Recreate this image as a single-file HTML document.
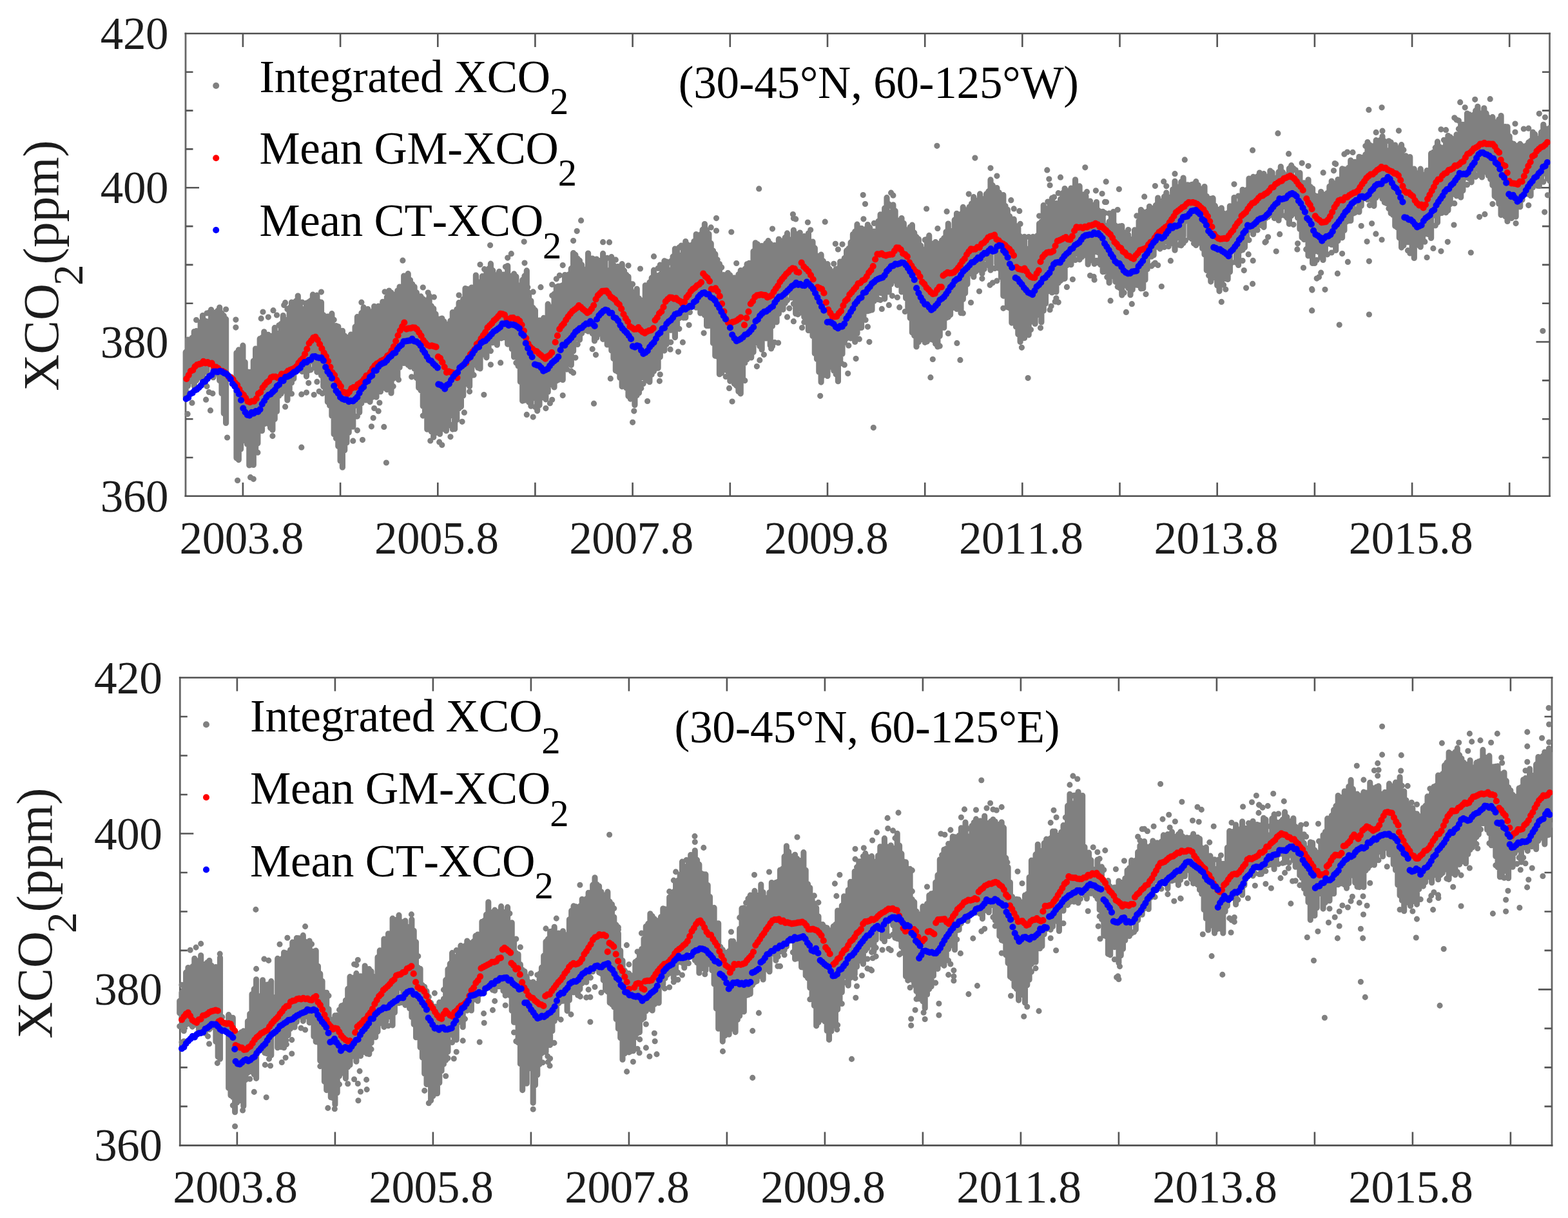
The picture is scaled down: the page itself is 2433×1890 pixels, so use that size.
<!DOCTYPE html>
<html lang="en">
<head>
<meta charset="utf-8">
<title>XCO2 time series (30-45°N): integrated, GM and CT means</title>
<style>
html,body{margin:0;padding:0;background:#fff;}
body{width:2433px;height:1890px;overflow:hidden;}
svg{display:block;font-family:"Liberation Serif",serif;font-kerning:none;font-variant-ligatures:none;}
</style>
</head>
<body>
<svg width="2433" height="1890" viewBox="0 0 2433 1890">
<rect width="2433" height="1890" fill="#fff"/>
<g id="p1">
<path d="M288 50.7V771.1M2404.5 50.7V771.1" fill="none" stroke="#666" stroke-width="2.8"/>
<path d="M286.6 52H2405.9M286.6 769.8H2405.9" fill="none" stroke="#505050" stroke-width="2.6"/>
<path d="M376.9 52v21M376.9 769.8v-21M528.1 52v21M528.1 769.8v-21M679.3 52v21M679.3 769.8v-21M830.4 52v21M830.4 769.8v-21M981.6 52v21M981.6 769.8v-21M1132.8 52v21M1132.8 769.8v-21M1284 52v21M1284 769.8v-21M1435.2 52v21M1435.2 769.8v-21M1586.3 52v21M1586.3 769.8v-21M1737.5 52v21M1737.5 769.8v-21M1888.7 52v21M1888.7 769.8v-21M2039.9 52v21M2039.9 769.8v-21M2191.1 52v21M2191.1 769.8v-21M2342.2 52v21M2342.2 769.8v-21M288 111.8h11.5M2404.5 111.8h-11.5M288 171.6h11.5M2404.5 171.6h-11.5M288 231.4h11.5M2404.5 231.4h-11.5M288 291.3h21M2404.5 291.3h-21M288 351.1h11.5M2404.5 351.1h-11.5M288 410.9h11.5M2404.5 410.9h-11.5M288 470.7h11.5M2404.5 470.7h-11.5M288 530.5h21M2404.5 530.5h-21M288 590.4h11.5M2404.5 590.4h-11.5M288 650.2h11.5M2404.5 650.2h-11.5M288 710h11.5M2404.5 710h-11.5" fill="none" stroke="#555" stroke-width="2.6"/>
<clipPath id="clip-p1"><rect x="282" y="52" width="2123.5" height="717.8"/></clipPath>
<g clip-path="url(#clip-p1)">
<path d="M288.2 546.4V616.1M291.5 527V599M294.7 527.3V591.1M298 524.3V591.9M301.3 514.6V599M304.6 513.7V590.6M307.9 538.4V575.6M311.2 500.1V585.9M314.5 489.5V591.7M317.7 497.7V575.7M321 498.9V577.3M324.3 506.2V557M327.6 480.6V558.1M330.9 484.9V585.7M334.2 485.3V576.9M337.5 482.4V566.2M340.7 477V590.6M344 486.1V610.5M347.3 489.9V641.6M350.6 495.2V656.4M367 547.5V710.8M370.3 564.3V713.6M373.6 543.4V696.9M376.9 536.2V683.8M380.2 562.1V677.4M383.5 577V689.2M386.8 583.4V722M390 577.1V720.9M393.3 560.1V721.5M396.6 541.1V696.6M399.9 543V688.1M403.2 525.7V667M406.5 523.9V668.4M409.8 514.8V657.9M413.1 526V654.2M416.3 519.4V657.5M419.6 523.4V663.9M422.9 521.1V667.2M426.2 508.7V650.6M429.5 527V638.4M432.8 517.3V614.2M436.1 502.6V611.1M439.3 489.6V603.3M442.6 496.3V606.7M445.9 502.2V620.9M449.2 477.8V605.1M452.5 469V594.1M455.8 470.4V587.7M459.1 467.3V554.7M462.3 459.1V542.2M465.6 475.1V574.6M468.9 487.9V565.5M472.2 479.7V573.9M475.5 470.3V584.1M478.8 481.3V574.7M482.1 466.6V560.7M485.4 457.2V556.4M488.6 466.2V570.7M491.9 458.2V577.3M495.2 468.4V575.2M498.5 469.2V582.6M501.8 488.8V599.7M505.1 491.7V605.2M508.4 491.1V623.8M511.6 500.7V629.2M514.9 486.7V645.3M518.2 508.7V673.8M521.5 505.5V680.2M524.8 506.8V692.6M528.1 514.9V715.3M531.4 513.3V725.2M534.7 521V698.7M537.9 523.8V686.9M541.2 523.3V671.2M544.5 519V658.9M547.8 524.8V662.2M551.1 507.2V627.4M554.4 491.7V629.5M557.7 496V639.9M560.9 485.7V625.7M564.2 476.9V612.9M567.5 480.7V620.8M570.8 492.5V620.7M574.1 483.8V623.6M577.4 491.8V616.4M580.7 475.3V593.7M584 482.1V616.2M587.2 486.9V606.5M590.5 476.7V572.7M593.8 468.3V602.3M597.1 470.2V601.9M600.4 461.1V588.9M603.7 451.1V602M607 454V609.9M610.2 457.1V587.4M613.5 459.5V570.3M616.8 451.1V585.3M620.1 445V570.3M623.4 448.4V556.2M626.7 428V563.5M630 431.5V537.4M633.2 424.7V566.3M636.5 434.6V569.1M639.8 441V552.8M643.1 445.1V572.3M646.4 454.1V586.6M649.7 460V601.7M653 459.9V605.8M656.3 463.9V630.2M659.5 467.3V642.3M662.8 465.5V666.2M666.1 459.1V658.9M669.4 474.9V669.8M672.7 478.8V678.5M676 487.3V671.8M679.3 497.6V666M682.5 495.1V673.4M685.8 494V666M689.1 498.9V663.2M692.4 503.3V668.5M695.7 523.8V660.5M699 497.8V638M702.3 484.5V644.9M705.6 492.1V665.7M708.8 480.1V651.5M712.1 469.7V633.8M715.4 473.5V631.1M718.7 464.3V614.1M722 447.6V582.8M725.3 448.7V595.9M728.6 449.4V599.5M731.8 446.1V582.5M735.1 451.6V566.2M738.4 427.1V560.3M741.7 437.7V570.7M745 444.3V572M748.3 428.7V550.3M751.6 435.9V536.2M754.9 422.2V554.8M758.1 417.2V542M761.4 409.2V531.8M764.7 419.7V531.6M768 426.5V531.1M771.3 428.1V535.2M774.6 421.4V520.1M777.9 427.7V524.8M781.1 426V523.7M784.4 437.6V520.7M787.7 412.5V534.1M791 428.3V533.9M794.3 428.3V541.4M797.6 424.9V553.9M800.9 429.2V545.6M804.1 466.8V568M807.4 442.8V592.5M810.7 434.4V622.1M814 428.2V621.1M817.3 419.9V617.4M820.6 454.2V624.1M823.9 466.8V630.2M827.2 477.7V613.2M830.4 481.4V617.9M833.7 498.8V637.6M837 497V628.8M840.3 500.3V596.9M843.6 493.4V616.9M846.9 499.9V619.8M850.2 471.9V608.3M853.4 476.6V597.3M856.7 477.3V592.2M860 456.1V600.9M863.3 445.3V591M866.6 444.1V577.3M869.9 443.9V583.1M873.2 442.6V589.5M876.5 426.6V572.1M879.7 427.2V545.4M883 425.9V565M886.3 416.7V566.5M889.6 392.5V545.1M892.9 395.4V525.7M896.2 401.3V517.7M899.5 404.4V527.3M902.7 410.9V517.3M906 419.6V508.2M909.3 418.1V512.4M912.6 393.1V514.1M915.9 402.6V505.2M919.2 401V517.6M922.5 404V528.9M925.7 402V524.2M929 404.6V515.6M932.3 404.4V518.4M935.6 393.4V526.3M938.9 401.6V525.1M942.2 421.4V535M945.5 419.5V531M948.8 398.7V544M952 411.2V556.5M955.3 419.2V575.1M958.6 413.7V576.7M961.9 414.2V586.2M965.2 409.7V599.8M968.5 419.9V593.2M971.8 426.3V602M975 429.3V614.7M978.3 440.6V606M981.6 453.3V618.2M984.9 455.6V628.5M988.2 448.3V613.6M991.5 463.1V609.8M994.8 470.2V585.9M998.1 478.4V579.8M1001.3 442.8V587.9M1004.6 447.4V590.4M1007.9 438.2V592.7M1011.2 431.2V581.2M1014.5 419.2V535.6M1017.8 428.2V571.4M1021.1 427.7V571.2M1024.3 426.2V554.1M1027.6 412.2V541.7M1030.9 404.9V544.1M1034.2 406V534.2M1037.5 419V507.3M1040.8 424.5V512.3M1044.1 398.2V507M1047.4 386V523.6M1050.6 387V505.2M1053.9 405.1V493.7M1057.2 396V487.6M1060.5 382.5V493.1M1063.8 374.5V492.9M1067.1 379.9V481.4M1070.4 392.7V466.8M1073.6 380.2V468.5M1076.9 374.5V472.2M1080.2 363.6V477.2M1083.5 372.4V461.5M1086.8 364V485.9M1090.1 356.4V483M1093.4 347.6V489M1096.6 375.2V505.4M1099.9 362.9V505.5M1103.2 377.7V492.1M1106.5 389V532.5M1109.8 394.2V552.2M1113.1 417.3V538.5M1116.4 409.6V580.7M1119.7 433V578.8M1122.9 426.7V574.2M1126.2 427.4V570.4M1129.5 423.5V576.4M1132.8 426.9V591.3M1136.1 433.3V590M1139.4 431.1V575M1142.7 431.9V598.6M1145.9 425.9V607.5M1149.2 419.7V610.8M1152.5 424.2V586.1M1155.8 417.4V563.3M1159.1 409.8V557.8M1162.4 408.4V548.9M1165.7 408.5V555M1169 390V546.5M1172.2 376.8V531.8M1175.5 378.9V521.9M1178.8 383.6V537.3M1182.1 381.6V542.5M1185.4 407.3V520.6M1188.7 377.7V525M1192 373.7V520.2M1195.2 378.2V536M1198.5 386.2V506.1M1201.8 380.5V499.2M1205.1 380.8V499.8M1208.4 371.1V486.7M1211.7 375V478.4M1215 373.9V480.3M1218.2 368.7V470.5M1221.5 361.9V415.6M1224.8 384.3V453.8M1228.1 371.9V461.9M1231.4 357.1V460.1M1234.7 362.9V486.7M1238 368.5V472.6M1241.3 377.9V479.5M1244.5 367.1V485.4M1247.8 366.5V492M1251.1 367.4V491.5M1254.4 362V512.7M1257.7 375.2V498.6M1261 375.1V521.5M1264.3 384.9V548.4M1267.5 410.9V557.2M1270.8 397.1V577.2M1274.1 395.2V593.1M1277.4 405.2V582.6M1280.7 418.5V572.7M1284 409.7V583.4M1287.3 417.4V569.6M1290.6 421.7V555.4M1293.8 426.8V575.3M1297.1 417.5V580.8M1300.4 416.8V591.7M1303.7 406.1V559.1M1307 405.7V549.3M1310.3 400.6V531.7M1313.6 388.9V510.4M1316.8 385.7V520.4M1320.1 376.2V525M1323.4 363.5V523.6M1326.7 375.5V530.5M1330 348.2V517.6M1333.3 355.7V509M1336.6 354.3V508.4M1339.9 358.5V491.3M1343.1 355.7V483.2M1346.4 348.6V482.7M1349.7 353.2V481.8M1353 362.8V481M1356.3 359V467.2M1359.6 360.7V462.3M1362.9 343.3V452.1M1366.1 332.8V454.5M1369.4 337.4V455.3M1372.7 323V463.8M1376 306.7V453.2M1379.3 329.9V452.9M1382.6 331.2V440.9M1385.9 317.8V436M1389.1 327.3V420.2M1392.4 342V442.3M1395.7 347.7V438.9M1399 338.5V453M1402.3 346.5V445.2M1405.6 374.3V462.7M1408.9 360.4V477.9M1412.2 352.3V493.5M1415.4 349.2V516.1M1418.7 361.2V520.8M1422 367.7V538M1425.3 370.9V530.7M1428.6 381V504.9M1431.9 389.4V526.7M1435.2 387.2V531.3M1438.4 371.3V504.1M1441.7 365.4V524.6M1445 378.8V526.4M1448.3 378V527.7M1451.6 375.6V533.6M1454.9 379V538M1458.2 378.1V521.6M1461.5 373.1V504.8M1464.7 369.6V508.4M1468 359.8V493.4M1471.3 347V476.2M1474.6 358.3V488.5M1477.9 387.1V477.8M1481.2 341.2V463.6M1484.5 331.3V479.5M1487.7 336.4V478.7M1491 332.4V485.7M1494.3 321.4V464.6M1497.6 325.9V455.1M1500.9 328.2V441.1M1504.2 321.1V424.7M1507.5 316V422.1M1510.8 305.7V429.7M1514 311.2V421.6M1517.3 311.6V385M1520.6 300.9V419.1M1523.9 308.6V424.4M1527.2 309.3V401.1M1530.5 300.9V386.7M1533.8 296.9V412.1M1537 278.9V419.2M1540.3 298.8V390.5M1543.6 292.3V381.1M1546.9 291.5V409.5M1550.2 298.8V416.5M1553.5 308.6V430.2M1556.8 302.6V459.1M1560 319.5V459.5M1563.3 325.3V476.6M1566.6 335.5V478.1M1569.9 343.5V501.1M1573.2 340.2V499.3M1576.5 350.5V506.9M1579.8 353.3V518.7M1583.1 366.9V530.6M1586.3 372V524.9M1589.6 367.4V511.9M1592.9 391.4V516.6M1596.2 386V519.8M1599.5 373.9V492.1M1602.8 367.4V499.3M1606.1 370.7V502.5M1609.3 365.9V484.6M1612.6 347V489.1M1615.9 344.2V499.9M1619.2 318.5V482.2M1622.5 323.6V470.9M1625.8 328.3V452.2M1629.1 313.2V447.4M1632.4 307.4V436.7M1635.6 319.8V451.1M1638.9 315.7V452.9M1642.2 317.3V438.9M1645.5 309V409.6M1648.8 299.7V432.9M1652.1 292.6V432.3M1655.4 296.4V411.7M1658.6 302.6V404.5M1661.9 292V410.7M1665.2 292.8V399.7M1668.5 278.8V389.2M1671.8 292.9V393.8M1675.1 288.9V402.8M1678.4 307.4V398.9M1681.6 318.4V396.2M1684.9 304.3V388.3M1688.2 319.3V410.2M1691.5 327.4V393.4M1694.8 318.1V404.2M1698.1 319.5V383M1701.4 313.5V390.8M1704.7 326.9V391.9M1707.9 330.9V411.1M1711.2 328.3V421.8M1714.5 350.2V421.3M1717.8 357.3V415.2M1721.1 343.9V438.8M1724.4 335V424.8M1727.7 328.6V406.2M1730.9 350.2V437.3M1734.2 355V417.3M1737.5 351.1V446.8M1740.8 350.5V458M1744.1 360.8V442.6M1747.4 371.2V430.3M1750.7 364.3V446.9M1754 371.3V457.7M1757.2 371.3V449.5M1760.5 356.9V434.1M1763.8 358V442.2M1767.1 343V442.8M1770.4 325.6V447.8M1773.7 328.9V447.4M1777 330.5V434.2M1780.2 328.3V417.7M1783.5 320.3V398.3M1786.8 323.2V398.1M1790.1 326.3V395.9M1793.4 318.5V383.1M1796.7 307.1V383.3M1800 312.4V386.1M1803.3 313.1V378.6M1806.5 305.2V371.5M1809.8 299V374.9M1813.1 306.2V363.4M1816.4 312V377M1819.7 294.1V377.9M1823 281.3V388.2M1826.3 290V359.5M1829.5 305.1V369.1M1832.8 282.2V380.8M1836.1 276V366.2M1839.4 288.5V335.6M1842.7 286.9V343.3M1846 287.3V368.6M1849.3 298.9V370.7M1852.5 285.7V362.4M1855.8 281.7V380.6M1859.1 287.3V365.6M1862.4 297V377.3M1865.7 293V385.5M1869 289.6V394.9M1872.3 304.5V419.5M1875.6 308.3V412.5M1878.8 308.3V437.1M1882.1 307.7V426.4M1885.4 319.4V431M1888.7 337.2V443.1M1892 325.2V451.8M1895.3 322.8V440.4M1898.6 331V427.7M1901.8 337.1V432.5M1905.1 330.5V433.4M1908.4 319.8V422M1911.7 322V384.8M1915 306.6V385.3M1918.3 317.3V407.5M1921.6 316.9V411.4M1924.9 305.7V389M1928.1 294.3V387.7M1931.4 295.9V384.1M1934.7 294.6V369.6M1938 277.1V355.5M1941.3 279.2V356.8M1944.6 290.7V363.5M1947.9 278.5V349.5M1951.1 273.8V339.2M1954.4 268.1V328.6M1957.7 273.6V350M1961 286.2V352.6M1964.3 276.2V338.5M1967.6 274.1V336.5M1970.9 265.1V323.2M1974.1 267.7V316M1977.4 288.3V321.6M1980.7 296.1V337M1984 266.9V342M1987.3 258.5V334.5M1990.6 267.4V320.5M1993.9 283.9V320.4M1997.2 271.5V337.9M2000.4 261.4V347.5M2003.7 256.7V334.7M2007 277.1V331.6M2010.3 279.8V315.4M2013.6 268.9V338M2016.9 268.3V355.5M2020.2 286.7V368.6M2023.4 283.8V371.6M2026.7 293V367.1M2030 278.8V397M2033.3 289.8V391M2036.6 292.5V408.5M2039.9 303.4V390.2M2043.2 304.6V375.5M2046.5 309.6V391.3M2049.7 297.6V399.3M2053 301.6V403.4M2056.3 302.2V393.7M2059.6 299.6V376M2062.9 289.3V378.3M2066.2 281V379.7M2069.5 284.5V377.7M2072.7 300.7V388.5M2076 278.6V373.7M2079.3 279.1V363M2082.6 261.9V368.8M2085.9 262.8V357.4M2089.2 266.3V344.1M2092.5 260.3V342.7M2095.8 248.8V342.5M2099 258.3V331.4M2102.3 263.7V306.1M2105.6 254.2V304.2M2108.9 243.3V328.9M2112.2 244.4V319.5M2115.5 246.9V284.5M2118.8 239.8V307.6M2122 220.5V296.6M2125.3 224.9V306.4M2128.6 226.6V310.6M2131.9 226.6V319.6M2135.2 217.7V306.8M2138.5 219.8V296.6M2141.8 217.3V303.3M2145 211.6V308.4M2148.3 219.3V314.1M2151.6 249.4V300.5M2154.9 233.7V309.5M2158.2 220.8V331.1M2161.5 232.4V333.4M2164.8 236.4V350.8M2168.1 231.6V352.9M2171.3 229.5V369.1M2174.6 224.7V384.1M2177.9 247.1V381M2181.2 241.8V350.9M2184.5 246.6V375.7M2187.8 243.5V373.1M2191.1 265.3V390.2M2194.3 262.2V400.4M2197.6 274.9V380.5M2200.9 268.6V370.9M2204.2 262.2V383.2M2207.5 271V370.8M2210.8 278.8V361.2M2214.1 264.7V362.9M2217.4 271.1V364M2220.6 238.2V369.5M2223.9 236.4V334.6M2227.2 241.5V325.4M2230.5 219.9V345.2M2233.8 227.8V331.2M2237.1 232V318.9M2240.4 228.8V322.8M2243.6 217.3V313.6M2246.9 210.5V326.6M2250.2 212.5V316.8M2253.5 240.3V301.6M2256.8 215.6V299.4M2260.1 208.8V304M2263.4 213.2V297.2M2266.7 193.1V306.2M2269.9 193.3V295.8M2273.2 193.8V275.6M2276.5 176.1V273.2M2279.8 177.7V277.2M2283.1 219.8V282.8M2286.4 178.4V272.7M2289.7 171.7V262.5M2292.9 165.3V247.4M2296.2 175.9V270.8M2299.5 175.8V274.9M2302.8 167.8V267.3M2306.1 175.9V259.5M2309.4 182.4V272.4M2312.7 187.3V278.1M2315.9 181.7V287.6M2319.2 189.6V304.5M2322.5 195.7V307.3M2325.8 185.3V316.2M2329.1 179.6V333.6M2332.4 199V331.2M2335.7 196.7V335.7M2339 196.8V343.5M2342.2 211.5V337.7M2345.5 222.4V326.3M2348.8 223.4V333.1M2352.1 231.3V336.3M2355.4 240.6V301.4M2358.7 223.4V321M2362 226.6V309.9M2365.2 245.5V293.2M2368.5 225.8V287M2371.8 220.9V301.4M2375.1 218.5V303.7M2378.4 205V291.1M2381.7 208.4V283M2385 215.1V286.9M2388.3 245.7V288.5M2391.5 205.2V282.1M2394.8 193.3V259.5M2398.1 199.6V269.6M2401.4 205.6V277.3M2404.7 198.5V280.7" fill="none" stroke="#808080" stroke-width="9.2" stroke-linecap="round"/>
<path d="M298 625.2h0M304.6 496.5h0M307.9 525.9h0M317.7 587.1h0M321 486h0M321 599.4h0M324.3 485.2h0M324.3 584.3h0M324.3 608.5h0M337.5 579.9h0M350.6 480h0M370.3 542.9h0M393.3 743.3h0M399.9 702.2h0M416.3 492.1h0M422.9 676.6h0M429.5 489h0M432.8 504.8h0M442.6 469.7h0M442.6 631.2h0M445.9 479.7h0M452.5 611h0M468.9 469.1h0M468.9 576.6h0M475.5 609.1h0M478.8 468.9h0M478.8 594.3h0M482.1 573.9h0M491.9 592.4h0M495.2 607.3h0M498.5 453.1h0M518.2 496.3h0M547.8 684.2h0M551.1 646.3h0M554.4 646.1h0M554.4 667.8h0M560.9 469.2h0M570.8 479.6h0M580.7 633.5h0M587.2 475.1h0M587.2 637.9h0M590.5 607.7h0M597.1 452.8h0M600.4 604.6h0M610.2 599.5h0M656.3 446h0M656.3 645.1h0M685.8 690.5h0M695.7 508.2h0M699 659.2h0M699 677.8h0M702.3 666.1h0M712.1 458.1h0M722 594.7h0M728.6 607.6h0M735.1 581.9h0M745 410.5h0M751.6 417.7h0M751.6 547.8h0M761.4 544.6h0M761.4 565.8h0M784.4 414h0M787.7 400.1h0M800.9 563h0M804.1 453.4h0M814 408.1h0M817.3 643.4h0M827.2 452.9h0M827.2 647.1h0M830.4 631.6h0M846.9 633.6h0M853.4 625.7h0M856.7 458.5h0M856.7 441.5h0M856.7 620.3h0M863.3 432.8h0M866.6 589.3h0M873.2 411.6h0M873.2 613.6h0M879.7 573.1h0M886.3 575.9h0M889.6 373.6h0M889.6 578.4h0M892.9 555.1h0M896.2 534.4h0M919.2 541.7h0M935.6 375.7h0M942.2 400.4h0M945.5 375.9h0M955.3 403.2h0M975 412.1h0M978.3 619.1h0M981.6 440.9h0M981.6 655.3h0M994.8 602.6h0M998.1 466.2h0M998.1 595.4h0M1004.6 622.5h0M1014.5 576h0M1014.5 397.9h0M1021.1 416.3h0M1024.3 411.1h0M1024.3 581.1h0M1037.5 407.5h0M1040.8 405.4h0M1040.8 531.1h0M1053.9 383.9h0M1053.9 510.3h0M1057.2 381h0M1070.4 484.4h0M1096.6 357.1h0M1103.2 352.9h0M1113.1 403.1h0M1113.1 553.1h0M1119.7 414.9h0M1126.2 584.5h0M1136.1 623h0M1139.4 595.5h0M1142.7 408.5h0M1155.8 590.6h0M1178.8 558.9h0M1185.4 394.1h0M1185.4 550.3h0M1198.5 355.1h0M1198.5 537.2h0M1201.8 531.3h0M1221.5 465.9h0M1221.5 491.9h0M1224.8 478.4h0M1231.4 471.5h0M1231.4 338.7h0M1231.4 498.7h0M1234.7 339.9h0M1238 487.8h0M1241.3 361.1h0M1244.5 508.5h0M1247.8 500h0M1257.7 511.2h0M1257.7 356.8h0M1290.6 566.9h0M1293.8 409.3h0M1300.4 387h0M1307 379.1h0M1310.3 566.2h0M1313.6 525.1h0M1316.8 536.2h0M1326.7 359.3h0M1333.3 526.2h0M1339.9 339.8h0M1343.1 496.5h0M1346.4 507.1h0M1356.3 346.4h0M1362.9 464.7h0M1366.1 465.6h0M1379.3 316.9h0M1379.3 473.4h0M1382.6 319.8h0M1382.6 299.2h0M1385.9 303.2h0M1392.4 461.5h0M1395.7 476.9h0M1405.6 356.5h0M1435.2 372.2h0M1438.4 530h0M1454.9 354.5h0M1458.2 536.9h0M1471.3 491.9h0M1471.3 517.4h0M1477.9 374.4h0M1494.3 486h0M1517.3 400.6h0M1523.9 432.3h0M1527.2 417.5h0M1530.5 410.4h0M1537 260.8h0M1540.3 287.7h0M1540.3 438.8h0M1543.6 416.4h0M1546.9 273.1h0M1546.9 435.8h0M1556.8 478.3h0M1573.2 323.9h0M1583.1 347.4h0M1589.6 524.4h0M1596.2 367.6h0M1599.5 511.5h0M1612.6 335.1h0M1625.8 313h0M1629.1 287.5h0M1629.1 480.7h0M1632.4 453.9h0M1635.6 305.9h0M1638.9 462.8h0M1642.2 299.7h0M1642.2 469.1h0M1645.5 435.4h0M1645.5 275.2h0M1655.4 445.4h0M1668.5 403.4h0M1681.6 301.9h0M1691.5 312h0M1691.5 427.6h0M1698.1 409.4h0M1698.1 434.2h0M1701.4 404.3h0M1704.7 408h0M1714.5 330.6h0M1714.5 313.4h0M1717.8 430h0M1721.1 331.1h0M1727.7 429h0M1734.2 445.1h0M1734.2 325.5h0M1744.1 454.3h0M1747.4 443h0M1747.4 484.4h0M1750.7 356.6h0M1763.8 334.9h0M1786.8 412.8h0M1790.1 410.1h0M1796.7 411.5h0M1806.5 383.5h0M1809.8 288.8h0M1813.1 382.4h0M1816.4 404.7h0M1823 269.7h0M1829.5 380.1h0M1836.1 377.2h0M1839.4 373.2h0M1849.3 286.4h0M1852.5 377.8h0M1875.6 427.4h0M1895.3 468.4h0M1898.6 442.2h0M1901.8 449h0M1911.7 407.5h0M1915 285.8h0M1921.6 304h0M1928.1 404.6h0M1938 372.6h0M1944.6 274.4h0M1951.1 356.9h0M1954.4 348.8h0M1961 269.7h0M1964.3 374.8h0M1967.6 367.8h0M1974.1 333.7h0M1977.4 338.6h0M1980.7 276.1h0M1993.9 334.8h0M2007 261.3h0M2007 348.6h0M2010.3 263.8h0M2013.6 377.8h0M2020.2 253.1h0M2026.7 386.9h0M2030 257.6h0M2039.9 408.5h0M2043.2 403.6h0M2043.2 432.1h0M2046.5 430h0M2049.7 423.2h0M2059.6 394.8h0M2066.2 392h0M2069.5 264.8h0M2072.7 254.6h0M2082.6 393.6h0M2085.9 239.2h0M2099 236.4h0M2102.3 251.3h0M2102.3 330.1h0M2105.6 324.8h0M2112.2 350.5h0M2115.5 297.9h0M2118.8 226.5h0M2122 309.7h0M2125.3 318.6h0M2128.6 346.8h0M2135.2 205.4h0M2145 203.2h0M2151.6 315.5h0M2154.9 218.8h0M2154.9 323.4h0M2164.8 225.1h0M2177.9 232.7h0M2184.5 388.7h0M2187.8 392.9h0M2210.8 375.2h0M2214.1 399.5h0M2223.9 385.4h0M2227.2 229.2h0M2227.2 350h0M2237.1 330.5h0M2240.4 217.3h0M2243.6 329.8h0M2243.6 201.7h0M2253.5 218.9h0M2256.8 315.7h0M2256.8 182.8h0M2260.1 185.9h0M2263.4 200.1h0M2263.4 187.2h0M2273.2 166.8h0M2276.5 286.7h0M2289.7 274.3h0M2292.9 271.8h0M2315.9 316.6h0M2345.5 338.6h0M2352.1 346.6h0M2355.4 226.2h0M2355.4 317.6h0M2371.8 199.2h0M2371.8 318.6h0M2388.3 176.3h0M2394.8 282.2h0M2401.4 302.8h0M624.9 404.2h0M760.6 380.6h0M813.2 375.1h0M793.3 393.7h0M365.9 496.1h0M365.9 508.1h0M408 484h0M424 481.7h0M440.7 473.4h0M405.2 494.2h0M839 445.7h0M818.8 445.7h0M673.4 461h0M664.2 454h0M539.8 530.2h0M329.9 610.6h0M319.6 620.2h0M326.5 636.9h0M352.6 679h0M467.8 611.9h0M487.2 612.5h0M500.2 610.6h0M467.8 694.2h0M599.4 718h0M562.5 682.6h0M576.4 661.8h0M595.8 662.4h0M579.2 648.5h0M588.9 625h0M638.7 584.8h0M618.5 589.2h0M750.9 612.5h0M776.7 562.9h0M717.1 654.3h0M720.4 640.2h0M681.7 685.9h0M667.8 684h0M368.6 745.5h0M388.6 740.7h0M385.8 577.3h0M291.1 642.4h0M1177.7 292.9h0M901.6 342.2h0M895.2 358.6h0M1111.5 338.6h0M1111.5 358h0M1134.8 360h0M1339.2 302.6h0M1342.5 316.5h0M1437.6 324h0M1280.2 344.2h0M1253.4 345h0M1230.4 332.5h0M1296.3 378.3h0M993.5 417h0M868.3 427.3h0M924.5 550.6h0M921.5 626.2h0M947.3 587.4h0M1023.4 591.3h0M983.8 637.8h0M1131.5 602.4h0M1174.4 568.6h0M1272.7 614.3h0M1355.3 663.6h0M1315.7 579.6h0M1305.4 563.6h0M1328.1 556.6h0M1348.9 530.6h0M1404.3 483.5h0M1443.9 585.7h0M1447.3 557.5h0M1092.1 516.8h0M1069.1 504.3h0M1059.4 531.2h0M1052.5 545.8h0M1040.1 542.2h0M1207.6 532h0M1196.6 540.9h0M1384.4 459.1h0M1368.3 479.4h0M1453.9 226.3h0M1512.9 245.1h0M1982.9 206.9h0M1943.6 233.2h0M1999.6 238.7h0M1838.3 247.9h0M1624.8 263.9h0M1627.8 277.8h0M1683.8 259.8h0M1716.2 281.9h0M1736.4 293.6h0M1710.1 300.5h0M1716.5 313.5h0M1686.5 297.7h0M1700.4 295.8h0M1805.7 281.7h0M1792.4 288.6h0M1775.7 305.2h0M1568.8 310.7h0M1581.8 327.4h0M1503.2 301.1h0M1469.1 328.2h0M1506.5 469.5h0M1519.5 452h0M1536.1 442.3h0M1489.9 558.7h0M1595.1 586.6h0M1484.9 532.4h0M1664.4 433.5h0M1697.1 429.3h0M1631.1 475h0M1637.2 468.1h0M1723.1 466.7h0M1756.3 471.7h0M1778 456.5h0M1802.3 444.5h0M1792.4 408h0M1933.6 446.8h0M1943.6 440.4h0M1930.3 419.6h0M1980.2 390h0M2012.9 386.9h0M2022.5 415.5h0M2035.6 481.9h0M2035.6 448.7h0M1963 376.1h0M1985.7 363.4h0M1937.2 394.7h0M1944.2 404.4h0M1585.4 539.3h0M1614.5 508.8h0M2123.9 170.4h0M2144.1 166.8h0M2170.4 202.8h0M2090.6 236h0M2071.2 253.5h0M2053.2 267.9h0M2265.7 158.7h0M2288.7 154.3h0M2312.2 153.7h0M2236 200.8h0M2351 192h0M2364.3 200h0M2351 205h0M2397.5 182h0M2075.4 424.4h0M2091.4 406.4h0M2124.4 405.3h0M2121.1 374.8h0M2144.1 372h0M2134.9 362.9h0M2236 389.8h0M2246.3 375.3h0M2282.3 392h0M2256 349h0M2396.7 329.1h0M2295.6 336.6h0M2303.9 332.4h0M2036 450.1h0M2056 449.3h0M2035.8 481.9h0M2078.2 504.1h0M2124.4 488h0M2393.9 513.5h0" fill="none" stroke="#808080" stroke-width="9.2" stroke-linecap="round"/>
<path d="M289.4 587.8h0M292.7 582.1h0M295.9 575.8h0M299.2 574.4h0M302.5 568.8h0M305.8 566h0M309.1 565.1h0M312.3 564.2h0M315.6 560.8h0M318.9 563.5h0M322.2 562h0M325.5 564.7h0M328.7 563.5h0M332 569.2h0M335.3 569.6h0M338.6 571.6h0M341.9 575.6h0M345.2 575.9h0M348.4 577.5h0M351.7 580.3h0M355 584.8h0M358.3 585.7h0M361.6 588.8h0M364.8 594h0M368.1 597.4h0M371.4 603.8h0M374.7 609.8h0M378 612.9h0M381.2 617.7h0M384.5 622.9h0M387.8 624.2h0M391.1 622.6h0M394.4 622.7h0M397.7 618.7h0M400.9 610.9h0M404.2 608.6h0M407.5 601.6h0M410.8 597.3h0M414.1 593.3h0M417.3 591.1h0M420.6 585.9h0M423.9 584.7h0M427.2 584.7h0M430.5 586.1h0M433.7 584.9h0M437 580.4h0M440.3 581.7h0M443.6 579h0M446.9 575.6h0M450.2 574h0M453.4 572.8h0M456.7 571.4h0M460 568.6h0M463.3 563.1h0M466.6 559.4h0M469.8 556.3h0M473.1 549.4h0M476.4 541.6h0M479.7 532.6h0M483 528.6h0M486.2 524.1h0M489.5 522.9h0M492.8 527.3h0M496.1 534h0M499.4 540.9h0M502.7 547.7h0M505.9 553h0M509.2 560.5h0M512.5 569.6h0M515.8 578.2h0M519.1 582.1h0M522.3 589.8h0M525.6 594.6h0M528.9 599.6h0M532.2 608.1h0M535.5 609.4h0M538.7 611.4h0M542 608.1h0M545.3 602.8h0M548.6 601.1h0M551.9 600.8h0M555.1 596.6h0M558.4 594.6h0M561.7 592.2h0M565 588.1h0M568.3 583h0M571.6 582h0M574.8 577.5h0M578.1 571.9h0M581.4 567.3h0M584.7 564.3h0M588 562.6h0M591.2 560.1h0M594.5 558.6h0M597.8 556.8h0M601.1 552.2h0M604.4 550.1h0M607.6 544.2h0M610.9 537.9h0M614.2 529.3h0M617.5 520.5h0M620.8 513h0M624.1 506.7h0M627.3 500.6h0M630.6 510.7h0M633.9 509.7h0M637.2 509.3h0M640.5 508.3h0M643.7 508.7h0M647 511.2h0M650.3 516h0M653.6 521h0M656.9 528.2h0M660.1 532.2h0M663.4 535.5h0M666.7 537h0M670 536.3h0M673.3 537.4h0M676.6 538.4h0M679.8 553.6h0M683.1 555.9h0M686.4 562.2h0M689.7 569.5h0M693 577.9h0M696.2 576.3h0M699.5 577.6h0M702.8 578.5h0M706.1 582.8h0M709.4 586.1h0M723.2 563.2h0M726.5 556.8h0M729.9 549.8h0M733.2 546.1h0M736.5 542h0M739.8 534.1h0M743.2 531.3h0M746.5 525.4h0M749.8 520.4h0M753.1 515.5h0M756.5 508.4h0M759.8 505h0M763.1 501.8h0M766.4 497.4h0M769.8 494.5h0M773.1 490.8h0M776.4 486.8h0M779.7 487.4h0M783 488.7h0M786.4 494.8h0M789.7 494.9h0M793 493.3h0M796.3 493.2h0M799.7 495.6h0M803 495.4h0M806.3 498.1h0M809.6 504h0M813 513.3h0M816.3 524.8h0M819.6 533.4h0M822.9 538.7h0M826.3 541.5h0M829.6 544.3h0M832.9 545.4h0M836.2 548.6h0M839.6 551.3h0M842.9 554.1h0M846.2 556.7h0M849.5 553.1h0M852.9 551.2h0M856.2 547.2h0M861.7 531h0M865 520.9h0M868.3 510.7h0M871.6 505.6h0M874.9 502.2h0M878.2 496.3h0M881.5 491.3h0M884.9 487h0M888.2 483h0M891.5 480.5h0M894.8 478h0M898.1 474.2h0M901.4 476.7h0M904.7 479.9h0M908 482.5h0M911.3 485.5h0M914.6 483.4h0M917.9 479.4h0M921.2 473.8h0M924.5 464.3h0M927.8 458.4h0M931.1 455.1h0M934.4 451.8h0M937.7 451.6h0M941 451.4h0M944.3 455.3h0M947.6 460.4h0M950.9 462.6h0M954.3 465.1h0M957.6 469.9h0M960.9 472.5h0M964.2 479.2h0M967.5 487.5h0M970.8 493.8h0M974.1 499h0M977.4 506.6h0M980.7 508.5h0M984 511h0M987.3 510.6h0M990.6 508h0M993.9 512.2h0M997.2 515.2h0M1000.5 516.8h0M1003.8 514.7h0M1007.1 513.2h0M1010.4 512.4h0M1013.7 509.3h0M1016.5 496.8h0M1019.8 492.7h0M1023 486.3h0M1026.3 483.4h0M1029.5 476.4h0M1032.8 467.8h0M1036 464.3h0M1039.3 461.5h0M1042.5 461.9h0M1045.8 463.6h0M1049 462.6h0M1052.3 465.9h0M1055.5 467.7h0M1058.8 471.1h0M1062 468.4h0M1065.3 461.3h0M1068.5 457.7h0M1071.8 452h0M1075 448.7h0M1078.3 446.5h0M1081.5 443.2h0M1084.7 441.5h0M1088 438.1h0M1091.2 424.7h0M1094.5 428.8h0M1097.7 431.4h0M1101 436.3h0M1103.8 448.5h0M1107 449h0M1110.3 447.4h0M1113.6 452.1h0M1116.8 459.7h0M1120.1 471.3h0M1123.4 483.4h0M1126.6 495.3h0M1129.9 500.6h0M1133.1 502.8h0M1136.4 499.9h0M1139.7 499h0M1142.9 497.5h0M1146.2 495.1h0M1149.5 492.5h0M1155 504.4h0M1158.3 493.4h0M1161.5 483.6h0M1164.8 471.5h0M1168 467.5h0M1171.3 460.9h0M1174.5 458.3h0M1177.8 457.9h0M1181 457.2h0M1184.3 457.8h0M1187.5 458.1h0M1190.8 461.5h0M1194 460.2h0M1197.3 458.4h0M1200.5 452.9h0M1203.8 447.8h0M1207 443.6h0M1210.3 437.3h0M1213.5 433.1h0M1216.8 429.3h0M1220 425.1h0M1223.3 422.4h0M1226.5 418.6h0M1229.8 416.4h0M1233 417h0M1236.3 421.9h0M1239.5 422.7h0M1243.7 407.7h0M1247.3 413.8h0M1250.9 417.3h0M1254.5 421.1h0M1258.1 427h0M1261.7 433.5h0M1268.6 445.6h0M1271.9 447.2h0M1275.2 448.5h0M1278.5 454.7h0M1281.8 469.3h0M1285.2 480.6h0M1288.5 485.9h0M1291.8 491.2h0M1295.1 491.3h0M1298.4 490.8h0M1301.7 486.2h0M1305 482.7h0M1308.4 474.1h0M1311.7 467.1h0M1315 464.2h0M1318.3 457.1h0M1321.6 453.6h0M1324.9 449.4h0M1328.2 445.7h0M1331.5 440.1h0M1334.9 439h0M1338.2 435.4h0M1341.5 433.8h0M1344.8 429.2h0M1348.1 423.2h0M1351.4 419.4h0M1354.7 413.2h0M1358.1 402.3h0M1361.4 394.3h0M1364.7 394.7h0M1368 393.4h0M1371.3 395.7h0M1374.6 396.7h0M1377.9 395.5h0M1381.2 394.9h0M1384.6 394.6h0M1387.9 389.3h0M1391.2 384.4h0M1394.5 384.5h0M1397.8 387.4h0M1401.1 393.4h0M1404.4 394.9h0M1407.8 398.2h0M1411.1 407.3h0M1414.4 412.4h0M1417.7 417.7h0M1421 421.6h0M1424.3 423.4h0M1427.6 429.3h0M1431 437.7h0M1434.3 440.9h0M1437.6 446.3h0M1440.9 449.5h0M1444.2 453.3h0M1447.5 456.1h0M1450.8 455.3h0M1454.1 449.8h0M1457.5 445.3h0M1460.8 445.4h0M1463.5 427.7h0M1466.9 425.1h0M1470.2 422.8h0M1473.5 423.9h0M1476.8 423.6h0M1480.1 422.6h0M1483.4 419.5h0M1486.8 415.6h0M1490.1 411.2h0M1493.4 405.3h0M1496.7 401.6h0M1500 395h0M1503.3 390.4h0M1506.6 386.4h0M1510 386.8h0M1513.3 386.6h0M1516.6 383.6h0M1519.9 383.8h0M1523.2 378.3h0M1526.5 376.7h0M1529.9 373.2h0M1533.2 368.7h0M1536.5 366.9h0M1539.8 366h0M1543.1 364.7h0M1546.4 371.4h0M1549.8 373.4h0M1553.1 376.8h0M1556.4 378.4h0M1559.7 380.7h0M1563 384h0M1566.3 386.6h0M1569.6 390.5h0M1573 396.4h0M1577.1 414.5h0M1580.3 417.2h0M1583.4 418h0M1586.6 418.7h0M1589.7 416.5h0M1592.9 421.2h0M1596 426.4h0M1599.2 429.3h0M1602.3 430.6h0M1605.4 430.8h0M1608.6 424.4h0M1611.7 419.6h0M1614.5 406.1h0M1617.8 398.8h0M1621.1 394.9h0M1624.4 392.1h0M1627.7 391.4h0M1630.9 391.4h0M1634.2 389.7h0M1637.5 381.5h0M1640.8 374.2h0M1644.1 372.8h0M1647.4 371.4h0M1650.6 369.6h0M1653.9 368h0M1657.2 371.3h0M1660.5 371.9h0M1663.8 366.7h0M1667.1 358h0M1670.3 352.3h0M1673.6 353h0M1676.9 352.7h0M1680.2 354h0M1683.5 351.9h0M1686.8 352.5h0M1690 350.1h0M1693.3 349.8h0M1696.6 348.6h0M1699.9 346.8h0M1703.2 348.4h0M1706.5 352.2h0M1709.7 351h0M1713 354.8h0M1716.3 357.6h0M1719.6 361.1h0M1722.9 363.8h0M1726.2 369.1h0M1729.5 375.7h0M1732.7 378.6h0M1736 383.3h0M1739.3 385h0M1742.6 390.4h0M1745.9 392.4h0M1749.2 396.7h0M1752.4 397.6h0M1755.7 400.2h0M1759 401.7h0M1762.3 396.4h0M1765.6 392.9h0M1768.9 388.4h0M1772.1 387.3h0M1775.4 386.2h0M1778.7 384.6h0M1782 379.7h0M1785.3 375.9h0M1788.6 374.1h0M1791.8 369h0M1795.1 364.6h0M1798.4 360.3h0M1801.7 358.2h0M1805 355.3h0M1808.3 352.5h0M1811.5 350.5h0M1814.8 345h0M1818.1 340.4h0M1821.4 335.5h0M1824.7 329.7h0M1828 327.2h0M1831.3 324.6h0M1834.5 321.8h0M1837.8 320.3h0M1841.1 316.5h0M1844.4 314.2h0M1847.7 314.5h0M1851 314.1h0M1854.2 315h0M1857.5 316.5h0M1860.8 319.4h0M1864.1 322.6h0M1867.4 325.1h0M1870.7 330.3h0M1873.9 335.5h0M1877.2 343.6h0M1880.5 352h0M1883.8 363h0M1887.1 367.5h0M1890.4 369.8h0M1893.6 370.8h0M1896.9 370.3h0M1900.2 369.9h0M1903.5 370.3h0M1906.8 365.7h0M1910.1 361h0M1913.3 357.5h0M1916.6 351.5h0M1919.9 346.7h0M1923.2 343h0M1926.5 335h0M1929.8 332.1h0M1933.1 329.3h0M1936.3 324.2h0M1939.6 319.7h0M1942.9 315.6h0M1946.2 314.3h0M1949.5 311.4h0M1952.8 307.3h0M1956 304.4h0M1959.3 303.7h0M1962.6 301.2h0M1965.9 299.3h0M1969.2 296.1h0M1972.5 291.4h0M1975.7 290.4h0M1979 285.8h0M1982.3 283.8h0M1985.6 281.7h0M1988.9 280.6h0M1992.2 277.1h0M1995.4 276h0M1998.7 274.3h0M2002 272.8h0M2005.3 275.2h0M2008.6 277.6h0M2011.9 281.7h0M2015.1 286.5h0M2018.4 289.9h0M2021.7 295.2h0M2027.3 308.3h0M2030 314.4h0M2032.8 318h0M2035.6 324.3h0M2040.8 335.4h0M2044.1 339.6h0M2047.4 341.8h0M2050.7 345.2h0M2054 344.6h0M2057.3 344.1h0M2060.6 341h0M2063.9 335.9h0M2067.2 329.1h0M2070.6 321.6h0M2073.9 316.7h0M2077.2 311.4h0M2080.5 310.2h0M2083.8 310.7h0M2087.1 306.3h0M2090.4 306h0M2093.7 303.2h0M2097 301.2h0M2100.3 299.3h0M2103.7 298.4h0M2107 295.8h0M2110.3 290.7h0M2113.6 285.7h0M2116.9 281.4h0M2120.2 276.3h0M2123.5 273.4h0M2126.8 270.6h0M2130.1 270.3h0M2133.5 267.3h0M2136.8 264h0M2140.1 262.2h0M2143.4 259.1h0M2146.7 260.6h0M2150 260.7h0M2153.3 263.4h0M2156.6 265h0M2159.9 266.3h0M2163.2 268.9h0M2166.6 269.7h0M2169.9 272.3h0M2173.2 279.7h0M2176.5 288.8h0M2179.3 296.2h0M2182.5 299h0M2185.8 298.9h0M2189 302.1h0M2192.3 304.5h0M2195.6 311.1h0M2198.8 315.4h0M2202.1 318.6h0M2205.4 317.6h0M2208.6 322.4h0M2211.9 317.7h0M2215.1 308.8h0M2218.4 302.4h0M2221.7 296.2h0M2224.9 290h0M2228.2 283h0M2231.5 278.5h0M2234.7 278h0M2238 272.5h0M2241.2 269.5h0M2244.5 268.1h0M2247.8 264.2h0M2251 263.2h0M2254.3 261.3h0M2257.6 257h0M2260.8 257.1h0M2264.1 255.2h0M2267.3 252h0M2270.6 250.3h0M2273.9 244.4h0M2277.1 239h0M2280.4 237.7h0M2283.7 234.7h0M2286.9 230.7h0M2290.2 229h0M2293.4 227.2h0M2296.7 223.6h0M2300 223.4h0M2303.2 221.9h0M2306.5 223.4h0M2309.8 223.4h0M2313 223.6h0M2316.3 223.6h0M2319.5 227.3h0M2322.8 233.5h0M2326.1 236.7h0M2328.8 248.2h0M2332.1 255.8h0M2335.4 257.5h0M2338.7 268.1h0M2341.9 281.1h0M2345.2 284.3h0M2348.5 284.6h0M2351.8 285.1h0M2355 286.2h0M2358.3 281.8h0M2361.6 281.7h0M2364.9 273.4h0M2368.1 265.3h0M2371.4 257.7h0M2374.7 251.3h0M2378 242.7h0M2381.2 240.7h0M2384.5 234.6h0M2387.8 231.3h0M2391 228.6h0M2394.3 227.4h0M2397.6 224.7h0M2400.9 220.9h0" fill="none" stroke="#ff0000" stroke-width="10.2" stroke-linecap="round"/>
<path d="M288.8 618.9h0M292.1 617.2h0M295.4 611.2h0M298.7 609.6h0M301.9 606h0M305.2 604.4h0M308.5 601.5h0M311.8 598.1h0M315 593.1h0M318.3 591.8h0M321.6 588h0M324.9 583.8h0M328.2 582h0M331.4 576.5h0M334.7 576.6h0M338 577.2h0M341.3 575.9h0M344.5 576.9h0M347.8 578.8h0M351.1 580.1h0M354.4 583.3h0M357.7 588.2h0M360.9 595.5h0M364.2 599.3h0M367.5 605.9h0M370.8 611.5h0M374 621h0M377.3 633.6h0M380.6 639.7h0M383.9 644h0M387.2 644.6h0M390.4 640.2h0M393.7 641.5h0M397 638.1h0M400.3 638.9h0M403.5 635.3h0M406.8 627.1h0M410.1 622h0M413.4 616.3h0M416.7 612.9h0M419.9 611.6h0M423.2 608.2h0M426.5 605.1h0M429.8 599.1h0M433 596.8h0M436.3 589.8h0M439.6 590.8h0M442.9 585.2h0M446.2 584.5h0M449.4 582.9h0M452.7 580.7h0M456 577.6h0M459.3 576.3h0M462.5 573h0M465.8 570.8h0M469.1 565.6h0M472.4 562.2h0M475.7 562.2h0M478.9 559.1h0M482.2 558.2h0M485.5 553.3h0M488.8 553.1h0M492 554.7h0M495.3 555.3h0M498.6 555.2h0M501.9 559.6h0M505.2 569.7h0M508.4 576.7h0M511.7 581h0M515 586.9h0M518.3 598.8h0M521.6 606.5h0M524.8 610.4h0M528.1 616.5h0M531.4 619h0M534.7 620.2h0M537.9 620.4h0M541.2 623.1h0M544.5 621.8h0M547.8 622.5h0M551.1 619.6h0M554.3 616.4h0M557.6 609.8h0M560.9 603.6h0M564.2 600.5h0M567.4 593.2h0M570.7 591.5h0M574 585.1h0M577.3 582.8h0M580.6 575.2h0M583.8 575h0M587.1 569.2h0M590.4 565.7h0M593.7 563.9h0M596.9 562.7h0M600.2 559.4h0M603.5 555.1h0M606.8 552.7h0M610.1 548.6h0M613.3 547.5h0M616.6 542h0M619.9 537.6h0M623.2 535.2h0M626.4 529.8h0M629.7 529.5h0M633 528.8h0M636.3 528.4h0M639.6 525.9h0M642.8 529.5h0M646.1 530.2h0M649.4 532.5h0M652.7 536.4h0M655.9 542.8h0M659.2 547.4h0M662.5 553.3h0M665.8 558.5h0M669.1 560.2h0M672.3 564.3h0M675.6 567.3h0M678.9 570.6h0M680.3 596.3h0M683.6 597.4h0M686.9 599.7h0M690.2 603.3h0M693.5 597.6h0M696.8 595.6h0M700.1 589.6h0M703.4 584.5h0M706.7 580.4h0M710 577.9h0M713.3 570.7h0M716.6 568.2h0M719.9 565.3h0M723.2 561h0M726.5 556h0M729.9 554.1h0M733.2 548.8h0M736.5 543.6h0M739.8 539.7h0M743.1 538.4h0M746.4 532.4h0M749.7 530.2h0M753 529h0M756.3 525.6h0M759.6 522.1h0M762.9 518.4h0M766.2 514.5h0M769.5 512.7h0M772.8 510.2h0M776.1 507.6h0M779.4 502.4h0M782.7 502.3h0M786 501.7h0M789.3 505h0M792.7 503.5h0M796 503.9h0M799.3 504.9h0M802.6 507h0M805.9 509.6h0M809.2 517.6h0M812.5 520.6h0M815.8 532.7h0M819.1 540.4h0M822.4 547.8h0M825.7 553.8h0M829.9 565.5h0M833.2 566.6h0M836.5 567.3h0M839.8 570.7h0M843.1 575.6h0M846.4 574.1h0M849.8 572.4h0M853.1 567.6h0M856.4 563.4h0M859.7 560.4h0M863 557.9h0M866.3 553.7h0M869.7 543.2h0M873 535.4h0M876.3 535.9h0M879.6 530.8h0M882.9 528h0M886.2 524.5h0M889.6 520.2h0M892.9 515.2h0M896.2 512.6h0M899.5 509.7h0M902.8 508.7h0M906.1 505.1h0M909.5 502.4h0M912.8 502.4h0M916.1 498.7h0M919.4 502.6h0M922.7 505.9h0M926 495.5h0M929.4 489.6h0M932.7 486.2h0M936 482.9h0M939.3 480.9h0M942.6 481.9h0M945.9 485.6h0M949.3 485.8h0M952.6 492.5h0M955.9 493.9h0M959.2 497.9h0M962.5 504.6h0M965.8 509.7h0M969.2 513.3h0M972.5 516.6h0M975.8 521h0M979.1 525.9h0M981.9 537.4h0M985.2 538.7h0M988.4 536.4h0M991.7 537.3h0M995 543.6h0M998.3 548.9h0M1001.5 547.1h0M1004.8 544.3h0M1008.1 538.5h0M1011.3 534.6h0M1014.6 531.3h0M1017.9 525.4h0M1021.2 519h0M1024.4 516.4h0M1027.7 510h0M1031 508.8h0M1034.3 502.5h0M1037.5 499.2h0M1040.8 496.8h0M1044.1 492.8h0M1047.4 487.8h0M1050.6 486.6h0M1053.9 486h0M1057.2 481.5h0M1060.5 477.9h0M1063.7 479.8h0M1067 477.5h0M1070.3 474.9h0M1073.5 475.8h0M1076.8 468.8h0M1080.1 466.7h0M1083.4 461h0M1086.6 457.5h0M1089.9 454.8h0M1093.2 454.2h0M1096.5 456.5h0M1099.7 456.5h0M1103 461.5h0M1106.3 463.2h0M1109.6 466.4h0M1112.8 472.4h0M1116.1 477.6h0M1119.4 483.9h0M1122.7 490h0M1125.9 495.2h0M1132.9 508.5h0M1136.2 519.5h0M1139.5 525h0M1142.8 529.1h0M1146.1 527.7h0M1149.4 525.8h0M1152.7 523.3h0M1156 519.5h0M1159.3 518.5h0M1162.6 515.4h0M1165.9 511.6h0M1169.2 507.5h0M1172.5 498.4h0M1175.8 496h0M1179.1 490.2h0M1182.4 486.7h0M1185.7 483.9h0M1189 483.1h0M1192.3 480.6h0M1195.7 477.5h0M1199 475.5h0M1202.3 469.4h0M1205.6 464.6h0M1208.9 460.5h0M1212.2 460.1h0M1215.5 457.5h0M1218.8 454.3h0M1222.1 451.1h0M1225.4 448h0M1228.7 444.2h0M1232 442.3h0M1235.3 438.9h0M1238.6 441.8h0M1241.9 440.9h0M1245.2 442.8h0M1248.5 443.1h0M1251.8 437.7h0M1255.1 440.7h0M1258.5 444.1h0M1261.8 448.3h0M1265.1 455h0M1268.4 461.6h0M1271.7 468.4h0M1275 475.9h0M1278.3 481.7h0M1283.8 499.9h0M1287.1 499.6h0M1290.4 500.9h0M1293.7 503h0M1297 507.5h0M1300.3 509.3h0M1303.6 506.1h0M1306.9 506.6h0M1310.2 502.3h0M1313.4 494.3h0M1316.7 489.9h0M1320 484h0M1323.3 478.9h0M1326.6 471.8h0M1329.9 467.9h0M1333.2 463.4h0M1336.5 461.6h0M1339.8 454.5h0M1343.1 453.5h0M1346.4 448.3h0M1349.7 445h0M1352.9 440.2h0M1356.2 437.7h0M1359.5 434.5h0M1362.8 432.8h0M1366.1 431.6h0M1369.4 430.7h0M1372.7 427.1h0M1376 420.9h0M1379.3 417.7h0M1382.6 413.3h0M1385.9 412.4h0M1389.2 409.7h0M1392.4 410h0M1395.7 409h0M1399 407.5h0M1402.3 408h0M1405.6 411.5h0M1408.9 416.1h0M1412.2 421.5h0M1415.5 427.1h0M1418.8 434.1h0M1422.1 447.2h0M1425.4 454.8h0M1428.7 461.5h0M1431.9 467.2h0M1435.2 472.1h0M1438.5 472.7h0M1441.8 476.9h0M1445.1 481h0M1448.4 478.7h0M1451.7 474.7h0M1455 471.2h0M1458.3 465.5h0M1461.6 463.5h0M1464.9 460.6h0M1468.2 456.1h0M1471.4 451.3h0M1474.7 445.7h0M1478 442.1h0M1481.3 436.2h0M1484.6 433.4h0M1487.9 431.9h0M1491.2 426.6h0M1494.5 421.2h0M1497.8 418.1h0M1501.1 415.1h0M1504.4 411.5h0M1507.7 407.3h0M1510.9 406.6h0M1514.2 403.6h0M1517.5 399.9h0M1520.8 400.8h0M1524.1 395.9h0M1527.4 392.8h0M1530.7 393.2h0M1534 389.3h0M1537.3 386h0M1540.6 389.9h0M1543.9 389h0M1547.2 382.5h0M1550.4 380.9h0M1553.7 381.7h0M1557 389h0M1560.3 392.7h0M1563.6 399.4h0M1566.9 409.5h0M1570.2 415.1h0M1575.7 431.2h0M1579 433h0M1582.3 437.7h0M1585.6 441.3h0M1588.9 446.5h0M1592.2 450.1h0M1595.5 454h0M1598.8 455.3h0M1602.1 457.1h0M1605.4 451.1h0M1608.6 444.9h0M1611.9 442.2h0M1615.2 438.5h0M1618.5 432.5h0M1621.8 430.9h0M1625.1 426.8h0M1628.4 423.3h0M1631.7 416.6h0M1635 410.2h0M1638.3 407.5h0M1641.6 407h0M1644.9 407.3h0M1648.1 402.7h0M1651.4 397.5h0M1654.7 394h0M1658 391.5h0M1661.3 386.9h0M1664.6 385.1h0M1667.9 380.5h0M1671.2 378.7h0M1674.5 376.4h0M1677.8 371.8h0M1681.1 367.3h0M1684.3 365.4h0M1687.6 364.9h0M1690.9 364h0M1694.2 364.1h0M1697.5 361.1h0M1700.8 362.9h0M1704.1 362.1h0M1707.4 365.5h0M1710.7 369.6h0M1714 377.8h0M1717.3 382.8h0M1720.6 388h0M1723.8 394.3h0M1727.1 399.2h0M1730.4 405.5h0M1733.7 408.4h0M1737 409.1h0M1740.3 414.2h0M1743.6 420h0M1746.9 422.9h0M1750.2 424.4h0M1753.5 424.2h0M1756.8 421.6h0M1760 421h0M1763.3 420.4h0M1766.6 413.2h0M1769.9 409h0M1773.2 404.8h0M1776.5 397.7h0M1779.8 393.6h0M1783.1 388.7h0M1786.4 381.8h0M1789.7 376.7h0M1793 373.3h0M1796.3 367.4h0M1799.5 367.8h0M1802.8 369.7h0M1806.1 367.5h0M1809.4 363h0M1812.7 358.3h0M1816 351.3h0M1819.3 353.6h0M1822.6 350.3h0M1825.9 351h0M1829.2 349.4h0M1832.5 342.5h0M1835.7 337.2h0M1839 336.3h0M1842.3 335.7h0M1845.6 331.9h0M1848.9 327.5h0M1852.2 326.9h0M1855.5 326.1h0M1858.8 329.3h0M1862.1 332.4h0M1865.4 340.1h0M1868.7 342.8h0M1872 349.5h0M1875.2 358.5h0M1878.5 362.1h0M1881.8 365.9h0M1883.2 383.8h0M1886.5 385.1h0M1889.8 387h0M1893.1 387h0M1896.4 389.6h0M1899.7 391.7h0M1903 394.2h0M1906.3 397.3h0M1909.6 390.3h0M1912.9 387.3h0M1916.2 382.8h0M1919.5 378.7h0M1922.8 372.4h0M1926.1 368.8h0M1929.3 361.8h0M1932.6 358.2h0M1935.9 349.7h0M1939.2 351.3h0M1942.5 350.3h0M1945.8 348h0M1949.1 344.8h0M1952.4 341.2h0M1955.7 339.3h0M1959 338.5h0M1962.3 337h0M1965.6 333.7h0M1968.9 330.7h0M1972.2 325.3h0M1975.5 321.1h0M1978.8 317h0M1982.1 314.7h0M1985.4 308.4h0M1988.7 309.1h0M1992 308.3h0M1995.3 307.5h0M1998.5 303.7h0M2001.8 301.4h0M2005.1 300h0M2008.4 301.9h0M2011.7 304.5h0M2015 311.7h0M2018.3 315.6h0M2021.6 322.5h0M2024.9 328.8h0M2028.2 338.6h0M2031.5 342h0M2034.8 347.9h0M2038.1 357.9h0M2041.4 363.9h0M2044.7 365.6h0M2048 368.3h0M2051.3 373.7h0M2054.6 369.6h0M2057.9 367h0M2061.2 366.4h0M2064.5 364.1h0M2067.7 359.2h0M2071 351.8h0M2074.3 348.3h0M2077.6 343.8h0M2080.9 339.5h0M2084.2 334.5h0M2087.5 329.1h0M2090.8 326.2h0M2094.1 321.1h0M2097.4 316h0M2100.7 313.5h0M2104 310.8h0M2107.3 310.4h0M2110.6 305.3h0M2113.9 304.8h0M2117.2 306.6h0M2120.5 304.7h0M2123.8 302h0M2127.1 296.3h0M2130.4 293.3h0M2133.7 288.5h0M2136.9 286.1h0M2140.2 285.5h0M2143.5 285.3h0M2146.8 280.4h0M2150.1 279.7h0M2153.4 274.9h0M2156.7 277.8h0M2160 284.2h0M2163.3 290.2h0M2166.6 292.5h0M2169.9 298.3h0M2173.2 306.4h0M2176.5 313.3h0M2179.3 337.4h0M2182.5 338h0M2185.8 340.6h0M2189.1 341.1h0M2192.4 344h0M2195.7 348.3h0M2199 352.4h0M2202.3 350.9h0M2205.6 349.5h0M2208.9 342.8h0M2212.2 338.7h0M2215.4 336.3h0M2218.7 333.9h0M2222 327.9h0M2225.3 325.6h0M2228.6 318.5h0M2231.9 313.1h0M2235.2 308.5h0M2238.5 303.8h0M2241.8 297.6h0M2245 294h0M2248.3 292.8h0M2251.6 287.4h0M2254.9 284.6h0M2258.2 279.8h0M2261.5 275.5h0M2264.8 268.8h0M2268.1 270.3h0M2271.4 269.8h0M2274.7 270.5h0M2277.9 267.6h0M2281.2 261.8h0M2284.5 256.5h0M2287.8 252.3h0M2291.1 245.2h0M2294.4 239.5h0M2297.7 237.2h0M2301 236.8h0M2304.3 239h0M2307.5 240h0M2310.8 241.9h0M2314.1 245h0M2317.4 246h0M2320.7 252.3h0M2324 255.1h0M2327.3 262.3h0M2330.6 272h0M2333.9 275.7h0M2337.2 283.7h0M2341.3 301.3h0M2344.6 305h0M2347.9 302.9h0M2351.2 307.5h0M2354.5 312.6h0M2357.9 310.1h0M2361.2 305.2h0M2364.5 302.1h0M2367.8 295.3h0M2371.1 289.8h0M2374.4 284.8h0M2377.7 281.2h0M2381 275.9h0M2384.3 273.8h0M2387.6 269h0M2390.9 266h0M2394.2 259.1h0M2397.6 257.7h0M2400.9 252h0" fill="none" stroke="#0000ff" stroke-width="10.2" stroke-linecap="round"/>
</g>
<g font-size="71" fill="#1c1c1c" letter-spacing="-0.45">
<text x="261" y="76" text-anchor="end">420</text>
<text x="261" y="315.3" text-anchor="end">400</text>
<text x="261" y="554.5" text-anchor="end">380</text>
<text x="261" y="793.8" text-anchor="end">360</text>
<text x="374.9" y="859" text-anchor="middle">2003.8</text>
<text x="677.3" y="859" text-anchor="middle">2005.8</text>
<text x="979.6" y="859" text-anchor="middle">2007.8</text>
<text x="1282" y="859" text-anchor="middle">2009.8</text>
<text x="1584.3" y="859" text-anchor="middle">2011.8</text>
<text x="1886.7" y="859" text-anchor="middle">2013.8</text>
<text x="2189.1" y="859" text-anchor="middle">2015.8</text>
</g>
<text transform="translate(90 412) rotate(-90)" font-size="79" fill="#1c1c1c" text-anchor="middle">XCO<tspan font-size="65" dx="-3" dy="38">2</tspan><tspan dy="-38">(ppm)</tspan></text>
<circle cx="335.2" cy="133" r="5" fill="#808080"/>
<text x="402.5" y="142.7" font-size="71" fill="#000" letter-spacing="-0.3">Integrated XCO<tspan font-size="58.5" dx="-0.8" dy="34.4">2</tspan></text>
<circle cx="335.2" cy="245.2" r="5" fill="#ff0000"/>
<text x="402.5" y="254" font-size="71" fill="#000" letter-spacing="-0.3">Mean GM-XCO<tspan font-size="58.5" dx="-0.8" dy="34.4">2</tspan></text>
<circle cx="335.2" cy="357" r="5" fill="#0000ff"/>
<text x="402.5" y="366.1" font-size="71" fill="#000" letter-spacing="-0.3">Mean CT-XCO<tspan font-size="58.5" dx="-0.8" dy="34.4">2</tspan></text>
<text x="1052.8" y="152.3" font-size="71" fill="#000" letter-spacing="-0.2">(30-45°N, 60-125°W)</text>
</g>
<g id="p2">
<path d="M279.3 1050.2V1778.7M2408 1050.2V1778.7" fill="none" stroke="#666" stroke-width="2.8"/>
<path d="M277.9 1051.5H2409.4M277.9 1777.4H2409.4" fill="none" stroke="#505050" stroke-width="2.6"/>
<path d="M367.9 1051.5v21M367.9 1777.4v-21M519.9 1051.5v21M519.9 1777.4v-21M671.9 1051.5v21M671.9 1777.4v-21M823.9 1051.5v21M823.9 1777.4v-21M975.9 1051.5v21M975.9 1777.4v-21M1127.9 1051.5v21M1127.9 1777.4v-21M1279.9 1051.5v21M1279.9 1777.4v-21M1431.9 1051.5v21M1431.9 1777.4v-21M1583.9 1051.5v21M1583.9 1777.4v-21M1735.9 1051.5v21M1735.9 1777.4v-21M1887.9 1051.5v21M1887.9 1777.4v-21M2039.9 1051.5v21M2039.9 1777.4v-21M2191.9 1051.5v21M2191.9 1777.4v-21M2343.9 1051.5v21M2343.9 1777.4v-21M279.3 1112h11.5M2408 1112h-11.5M279.3 1172.5h11.5M2408 1172.5h-11.5M279.3 1233h11.5M2408 1233h-11.5M279.3 1293.5h21M2408 1293.5h-21M279.3 1354h11.5M2408 1354h-11.5M279.3 1414.5h11.5M2408 1414.5h-11.5M279.3 1474.9h11.5M2408 1474.9h-11.5M279.3 1535.4h21M2408 1535.4h-21M279.3 1595.9h11.5M2408 1595.9h-11.5M279.3 1656.4h11.5M2408 1656.4h-11.5M279.3 1716.9h11.5M2408 1716.9h-11.5" fill="none" stroke="#555" stroke-width="2.6"/>
<clipPath id="clip-p2"><rect x="273.3" y="1051.5" width="2135.7" height="725.9"/></clipPath>
<g clip-path="url(#clip-p2)">
<path d="M278.7 1553.2V1572M282 1540.1V1581.6M285.3 1535.7V1599.7M288.6 1509V1590.1M291.9 1501.5V1587.4M295.2 1520V1578.4M298.5 1499.9V1593.1M301.8 1487.3V1590.4M305.1 1490.8V1585.4M308.4 1497.2V1600.5M311.7 1482.5V1573.5M315 1497.3V1595.4M318.3 1496.3V1603.2M321.6 1493.5V1584.3M324.9 1490.5V1582M328.2 1498.3V1594M331.6 1553.7V1574.5M334.9 1500.5V1616.4M338.2 1513.8V1639.7M341.5 1485.9V1643.3M344.8 1578.3V1578.3M348.1 1598.4V1598.4M351.4 1598.4V1598.4M354.7 1574.6V1688.4M358 1592.2V1699.8M361.3 1579.3V1702.3M364.6 1602.7V1725.7M367.9 1604V1710.8M371.2 1625V1707.9M374.5 1601.8V1701.8M377.8 1613.9V1716.6M381.1 1601.1V1675.6M384.4 1584.7V1664.6M387.7 1573.2V1659.8M391 1542.8V1663.1M394.3 1534.6V1667.3M397.6 1519.7V1673.4M400.9 1545.6V1626.1M404.2 1553.5V1584.9M407.6 1520.7V1629.5M410.9 1534.5V1633.9M414.2 1528V1634.9M417.5 1527.3V1631M420.8 1522.6V1637.6M424.1 1547.6V1591.1M427.4 1553.1V1579.7M430.7 1487.4V1625.7M434 1493.8V1619.7M437.3 1487.8V1617.5M440.6 1478V1625.7M443.9 1479.1V1593.7M447.2 1479.7V1606.6M450.5 1474V1596.5M453.8 1462.1V1593.3M457.1 1467.4V1594M460.4 1455.5V1585.7M463.7 1472.4V1576.8M467 1456.9V1577.7M470.3 1451.4V1584.4M473.6 1461.2V1577.5M476.9 1467.6V1576.8M480.2 1460V1586.9M483.6 1478.2V1584.3M486.9 1476.3V1608.3M490.2 1475.1V1616.6M493.5 1499.3V1605.7M496.8 1510.9V1646M500.1 1522.5V1651M503.4 1556V1678.3M506.7 1540.2V1691.6M510 1565.8V1688.1M513.3 1585V1702.8M516.6 1582.1V1703.9M519.9 1575.7V1713.9M523.2 1575.5V1695.7M526.5 1583.9V1669.8M529.8 1560.9V1659.9M533.1 1559.5V1665.4M536.4 1552.3V1673.6M539.7 1534.4V1655.7M543 1515.6V1652.6M546.3 1520.3V1638.5M549.6 1516.9V1639.3M552.9 1510.4V1647.3M556.2 1518.4V1630.5M559.6 1514.8V1638.5M562.9 1515.8V1632.8M566.2 1498.7V1591.8M569.5 1504.9V1635M572.8 1503.6V1635.7M576.1 1507.3V1618.3M579.4 1520.5V1605.9M582.7 1515.6V1609.5M586 1485.5V1600.8M589.3 1474.9V1587.1M592.6 1485.4V1588M595.9 1457V1593.6M599.2 1460.2V1584.3M602.5 1448.8V1577.7M605.8 1449.5V1574.7M609.1 1425.1V1591M612.4 1427.3V1571.2M615.7 1429.4V1546.4M619 1420.1V1533.2M622.3 1435V1508.8M625.6 1430.5V1555.4M628.9 1428.8V1559.6M632.2 1439.9V1538.3M635.6 1438.4V1564.8M638.9 1426.6V1578.2M642.2 1444.2V1589.6M645.5 1461.8V1609.8M648.8 1501.5V1607.5M652.1 1503.3V1625.2M655.4 1528.6V1641M658.7 1531.3V1666.1M662 1537.9V1682.6M665.3 1561.1V1668.2M668.6 1556.3V1707.8M671.9 1569.9V1700.7M675.2 1562V1696.8M678.5 1562.9V1696.7M681.8 1555.4V1680.2M685.1 1555V1661.9M688.4 1550V1651.4M691.7 1520.6V1645.2M695 1504.1V1632M698.3 1495.4V1605.5M701.6 1478.6V1587.2M704.9 1484.5V1610.5M708.2 1487.9V1613.5M711.6 1476.2V1578.9M714.9 1467.4V1586.3M718.2 1473.2V1593.7M721.5 1467.7V1559M724.8 1460V1568.1M728.1 1463.1V1559.7M731.4 1480.5V1568M734.7 1460.9V1550.6M738 1452.1V1551M741.3 1450V1553.2M744.6 1453.1V1540.9M747.9 1430.2V1539.4M751.2 1428.6V1540.8M754.5 1419.2V1533.2M757.8 1399.7V1512M761.1 1419.3V1520.3M764.4 1432V1520.7M767.7 1412.1V1537.2M771 1422.6V1530M774.3 1414.9V1530.7M777.6 1406.4V1521.4M780.9 1416.4V1537.5M784.2 1415.2V1544.9M787.6 1407.6V1531.6M790.9 1432.9V1544.6M794.2 1431.7V1568.2M797.5 1461V1586.3M800.8 1478.7V1586.3M804.1 1480.8V1617.7M807.4 1496.5V1650.9M810.7 1505V1691.6M814 1507.2V1677.3M817.3 1515.5V1681.2M820.6 1523.8V1637.2M823.9 1529.1V1656.4M827.2 1523.8V1711.4M830.5 1534.9V1683.7M833.8 1526.3V1668.1M837.1 1518.8V1651.6M840.4 1501.4V1634.5M843.7 1483.1V1627.1M847 1461.1V1632.6M850.3 1457.1V1621.6M853.6 1445.6V1621.6M856.9 1444.9V1599.9M860.2 1438.2V1584.5M863.6 1450.9V1579.2M866.9 1448.1V1556.9M870.2 1452.5V1541.2M873.5 1444.8V1553.2M876.8 1450.5V1545.8M880.1 1479.5V1568.6M883.4 1426.8V1552M886.7 1413.2V1519.3M890 1405.9V1539.9M893.3 1406.8V1522.4M896.6 1411.2V1544.3M899.9 1406.1V1535.1M903.2 1395.3V1525.8M906.5 1403.9V1521.6M909.8 1394.8V1524.3M913.1 1385.3V1516.3M916.4 1389.3V1503.7M919.7 1373.1V1496.3M923 1361.8V1468.6M926.3 1372.5V1503M929.6 1375V1509.1M932.9 1383.8V1510.9M936.2 1389.8V1521.1M939.6 1388.8V1536.3M942.9 1383.9V1538.9M946.2 1399.1V1556.1M949.5 1403.2V1558.6M952.8 1423V1562.8M956.1 1435.1V1581.5M959.4 1448.3V1596.4M962.7 1475V1610.6M966 1490.5V1644.3M969.3 1506.1V1634.9M972.6 1509.9V1630.4M975.9 1510.6V1632.9M979.2 1513.9V1617.6M982.5 1529.7V1630.7M985.8 1492.6V1609.7M989.1 1490.1V1603.2M992.4 1479.4V1601.7M995.7 1472.5V1582.2M999 1456.6V1579.7M1002.3 1437.5V1569.1M1005.6 1433.4V1563.3M1008.9 1417.7V1565.9M1012.2 1421.6V1568M1015.6 1425.9V1558.4M1018.9 1462.9V1550.5M1022.2 1428.6V1556.2M1025.5 1422.8V1529.8M1028.8 1409.8V1527.3M1032.1 1410.9V1518M1035.4 1419.2V1512.5M1038.7 1392.3V1504.2M1042 1403.5V1510.4M1045.3 1383.7V1518.3M1048.6 1370V1509.5M1051.9 1366.2V1493.3M1055.2 1357V1468.7M1058.5 1337.1V1494.1M1061.8 1344.5V1501.8M1065.1 1356.6V1491.9M1068.4 1336.3V1473M1071.7 1326.5V1470.1M1075 1338.4V1483.7M1078.3 1319.8V1490M1081.6 1334.4V1493.9M1084.9 1341.4V1509.8M1088.2 1355.4V1502.2M1091.6 1356.6V1502.7M1094.9 1356.9V1505.8M1098.2 1373.5V1487.4M1101.5 1391.5V1496.4M1104.8 1410.5V1505.8M1108.1 1408.6V1527M1111.4 1438V1565M1114.7 1432.8V1596.3M1118 1469.4V1590.2M1121.3 1473.7V1616.1M1124.6 1477.9V1607.4M1127.9 1482.3V1591M1131.2 1475.9V1605.2M1134.5 1460.5V1596.3M1137.8 1460.6V1596.2M1141.1 1474V1601.6M1144.4 1465.7V1582.3M1147.7 1441V1576.5M1151 1409.6V1563.5M1154.3 1408.9V1569.9M1157.6 1414.4V1544.8M1160.9 1409.1V1543.8M1164.2 1389.1V1542.2M1167.6 1409.8V1528.5M1170.9 1382.4V1524.4M1174.2 1399.3V1522.5M1177.5 1389.2V1515.1M1180.8 1372.5V1506.9M1184.1 1384.5V1520M1187.4 1394.6V1504.3M1190.7 1393.2V1498.2M1194 1384.7V1507.7M1197.3 1369.5V1480.1M1200.6 1371.7V1479.1M1203.9 1369.5V1490.4M1207.2 1368.3V1471.9M1210.5 1350V1438.2M1213.8 1348.4V1471.5M1217.1 1329.1V1474.2M1220.4 1312.8V1468.9M1223.7 1321.8V1452.4M1227 1332.1V1459.7M1230.3 1328.7V1456.5M1233.6 1326.2V1488.2M1236.9 1332.5V1487.3M1240.2 1347.9V1486.1M1243.6 1335.3V1500.7M1246.9 1322.6V1501.2M1250.2 1350.3V1513.9M1253.5 1371.7V1505.8M1256.8 1377.5V1532.8M1260.1 1395.7V1550.9M1263.4 1402V1560.5M1266.7 1408.8V1591.9M1270 1422V1586.6M1273.3 1435.9V1573.8M1276.6 1434.6V1582.4M1279.9 1438.8V1585M1283.2 1451.3V1599.5M1286.5 1473.8V1613.4M1289.8 1450.7V1600.4M1293.1 1437.4V1592M1296.4 1434.6V1589.5M1299.7 1413V1566.6M1303 1422.1V1556.5M1306.3 1405.2V1539.7M1309.6 1390.7V1515M1312.9 1393V1507M1316.2 1381V1529.2M1319.6 1368.4V1517.3M1322.9 1369.9V1506.9M1326.2 1352.2V1511.9M1329.5 1359.4V1500.2M1332.8 1336.7V1491.4M1336.1 1336.5V1489.6M1339.4 1343.3V1495.9M1342.7 1324.3V1475M1346 1329.6V1471.3M1349.3 1334.2V1462M1352.6 1328.6V1465.8M1355.9 1337.1V1476.6M1359.2 1338.8V1458.3M1362.5 1327.8V1441.2M1365.8 1313.8V1429.7M1369.1 1327.8V1456.9M1372.4 1300.9V1460.7M1375.7 1329.1V1451.7M1379 1317.4V1402.3M1382.3 1311.8V1421M1385.6 1317.2V1435.8M1388.9 1316.3V1455.2M1392.2 1293.2V1443.3M1395.6 1312V1457.5M1398.9 1324.6V1469M1402.2 1337V1478.6M1405.5 1337.8V1515M1408.8 1351.2V1521.4M1412.1 1348.4V1512.4M1415.4 1395.6V1520.5M1418.7 1399.6V1528.6M1422 1414.2V1538.3M1425.3 1418.9V1549.8M1428.6 1419.2V1549.7M1431.9 1406.6V1553.9M1435.2 1408.2V1564.4M1438.5 1402.5V1543.4M1441.8 1389.2V1534.7M1445.1 1386.8V1530.7M1448.4 1386.1V1514.4M1451.7 1369.3V1501.2M1455 1357.9V1503.4M1458.3 1333.7V1492.7M1461.6 1346.2V1495.5M1464.9 1318.3V1498.4M1468.2 1316.9V1487.8M1471.6 1328.2V1472.7M1474.9 1308.8V1433.7M1478.2 1298.1V1467.3M1481.5 1298.8V1473.8M1484.8 1300.5V1443.7M1488.1 1296.5V1442.9M1491.4 1284.8V1432.7M1494.7 1291.1V1422.9M1498 1276V1422.6M1501.3 1297.9V1429.3M1504.6 1321.2V1416.3M1507.9 1281.6V1397.3M1511.2 1276.3V1409.6M1514.5 1270.9V1416.2M1517.8 1277.6V1391.5M1521.1 1285V1418.3M1524.4 1275.1V1425.6M1527.7 1266.3V1412.7M1531 1277.3V1408.5M1534.3 1277.2V1415.7M1537.6 1286.9V1389.7M1540.9 1271.5V1404.8M1544.2 1274.8V1428.3M1547.6 1283V1432.5M1550.9 1279.4V1452.6M1554.2 1275.8V1443.3M1557.5 1284.4V1460.4M1560.8 1331.4V1481.9M1564.1 1345.6V1494.6M1567.4 1369.3V1515.6M1570.7 1391.5V1518.4M1574 1402.2V1531M1577.3 1408.5V1534.5M1580.6 1395.9V1552.1M1583.9 1402.7V1543.9M1587.2 1399.7V1527.1M1590.5 1389V1556M1593.8 1387.2V1528.8M1597.1 1361.2V1520.3M1600.4 1335.1V1496M1603.7 1335.7V1481.2M1607 1325.9V1493M1610.3 1310.3V1471.3M1613.6 1326.9V1471.7M1616.9 1320.2V1468.2M1620.2 1308.4V1449.8M1623.6 1302.1V1441.8M1626.9 1304.2V1437.8M1630.2 1300.7V1442.6M1633.5 1290V1437.9M1636.8 1311.2V1429.5M1640.1 1296.2V1426.9M1643.4 1307.7V1444.8M1646.7 1291.3V1412.6M1650 1280.6V1413.2M1653.3 1287.9V1399.5M1656.6 1250.4V1404.4M1659.9 1232.3V1387.7M1663.2 1246.9V1392M1666.5 1267.8V1368.3M1669.8 1233.8V1392.7M1673.1 1228.7V1401M1676.4 1235.5V1380.2M1679.7 1234.5V1365.3M1683 1314.3V1388.8M1686.3 1329.9V1394.5M1689.6 1323.1V1379.8M1692.9 1334.6V1360.4M1696.2 1349V1383.1M1699.6 1354.3V1389.9M1702.9 1334.1V1394.8M1706.2 1350.5V1411.9M1709.5 1353.5V1414.5M1712.8 1369.6V1451.7M1716.1 1370V1452.8M1719.4 1366.6V1480.4M1722.7 1375.9V1481.9M1726 1390.5V1435.6M1729.3 1377.1V1469.6M1732.6 1376.9V1464.7M1735.9 1367V1494.3M1739.2 1369.3V1482.7M1742.5 1392.5V1472.5M1745.8 1363V1459.2M1749.1 1350.5V1450.7M1752.4 1347V1452.5M1755.7 1335.1V1430.6M1759 1336V1417.8M1762.3 1335.4V1442.5M1765.6 1322.3V1427.9M1768.9 1312.1V1406.5M1772.2 1320.5V1419.2M1775.6 1305.5V1409.7M1778.9 1313.9V1404.4M1782.2 1352.7V1410.8M1785.5 1312.6V1392.8M1788.8 1304.7V1388.8M1792.1 1318.1V1366.6M1795.4 1307.8V1340.4M1798.7 1309.6V1370.7M1802 1306V1360.7M1805.3 1295.9V1329.7M1808.6 1300.7V1366.9M1811.9 1317.8V1378.8M1815.2 1298.3V1349.8M1818.5 1290.9V1366.7M1821.8 1298.4V1365.5M1825.1 1311.9V1365.1M1828.4 1294.6V1373.4M1831.7 1290.9V1365.5M1835 1297.9V1352.9M1838.3 1301.3V1359.7M1841.6 1299.7V1350.5M1844.9 1300.9V1338.6M1848.2 1299.6V1363.7M1851.6 1294V1370.9M1854.9 1300.7V1367.4M1858.2 1313.4V1372.9M1861.5 1301.5V1380.9M1864.8 1328.4V1387.4M1868.1 1319.9V1411.6M1871.4 1314.9V1425.4M1874.7 1345.5V1443.2M1878 1328.1V1433.6M1881.3 1334.9V1436.3M1884.6 1359.4V1448M1887.9 1348.3V1430.9M1891.2 1333.8V1437.6M1894.5 1349.3V1441.5M1897.8 1340.4V1448M1901.1 1351.7V1414.6M1904.4 1315.3V1405.8M1907.7 1289.6V1376.7M1911 1290.8V1393.4M1914.3 1290.4V1377.8M1917.6 1279.8V1403.5M1920.9 1286.8V1380.7M1924.2 1300.5V1372.9M1927.6 1274.8V1388.7M1930.9 1285.5V1373.7M1934.2 1285.3V1346M1937.5 1290.3V1357.5M1940.8 1278.7V1355.7M1944.1 1274.3V1359M1947.4 1280.1V1343.1M1950.7 1279.5V1346.1M1954 1280.5V1334.4M1957.3 1281.5V1356.2M1960.6 1269.2V1350.5M1963.9 1271.6V1335.9M1967.2 1299.6V1342.8M1970.5 1295.9V1341.5M1973.8 1270.1V1340.9M1977.1 1263.6V1348.8M1980.4 1275.8V1337.5M1983.7 1278.6V1326.4M1987 1275.1V1307.8M1990.3 1271.7V1325.5M1993.6 1260V1338.2M1996.9 1267.7V1332M2000.2 1282.3V1321.5M2003.6 1274.4V1327.4M2006.9 1269.8V1334.8M2010.2 1282.7V1345.2M2013.5 1291.6V1342.4M2016.8 1284.6V1358.4M2020.1 1301.6V1362.3M2023.4 1308.4V1379.1M2026.7 1321.6V1386.9M2030 1316.4V1400M2033.3 1306.7V1427.5M2036.6 1307.7V1418.3M2039.9 1319.1V1420.9M2043.2 1323.1V1408.7M2046.5 1324V1363.8M2049.8 1307.4V1386.7M2053.1 1295.8V1410.1M2056.4 1290.8V1400.6M2059.7 1270.1V1390.3M2063 1277.5V1397.7M2066.3 1265.5V1378.4M2069.6 1256.6V1386.7M2072.9 1261.9V1364.4M2076.2 1234.5V1372.8M2079.6 1237.1V1370.9M2082.9 1242V1370.8M2086.2 1227.8V1372.7M2089.5 1234.3V1378.2M2092.8 1220.5V1370.8M2096.1 1210.4V1355.5M2099.4 1224.4V1320.6M2102.7 1234.9V1369.8M2106 1232.1V1376.1M2109.3 1234.7V1358.6M2112.6 1242.4V1372.7M2115.9 1229.1V1376.5M2119.2 1230.1V1350.8M2122.5 1232.6V1347.3M2125.8 1214.3V1327.5M2129.1 1222.5V1335.7M2132.4 1223.9V1342.2M2135.7 1221.2V1330.8M2139 1219.9V1303.1M2142.3 1231.9V1322M2145.6 1233V1329M2148.9 1229.4V1316.1M2152.2 1232.7V1315.9M2155.6 1216.1V1325.9M2158.9 1219.7V1320.8M2162.2 1223.7V1341.4M2165.5 1214.1V1350.2M2168.8 1215.4V1373.1M2172.1 1205.7V1389.6M2175.4 1238.2V1397.2M2178.7 1227.7V1413.8M2182 1241.7V1400.6M2185.3 1250.3V1396.9M2188.6 1256V1405.9M2191.9 1253.9V1397.4M2195.2 1262.3V1398.7M2198.5 1262.7V1403.4M2201.8 1266.5V1379.9M2205.1 1267.1V1357.7M2208.4 1253.5V1375.1M2211.7 1250.4V1369M2215 1235.9V1361M2218.3 1237.2V1349.8M2221.6 1230.2V1369.8M2224.9 1220.7V1349.6M2228.2 1219.4V1358M2231.6 1203V1364.8M2234.9 1204.6V1357.9M2238.2 1200.9V1354.8M2241.5 1187.6V1349.4M2244.8 1183.4V1336.6M2248.1 1167.5V1364.6M2251.4 1169.6V1355.3M2254.7 1185V1350.8M2258 1166.9V1357.5M2261.3 1160.9V1331.9M2264.6 1171.6V1341.4M2267.9 1177V1337M2271.2 1183.2V1322.5M2274.5 1188.5V1339.8M2277.8 1186.1V1325.5M2281.1 1179.7V1318.6M2284.4 1191.9V1315M2287.7 1190.7V1302.7M2291 1183.4V1284.7M2294.3 1181.7V1295.1M2297.6 1180.6V1275.9M2300.9 1163.6V1277.7M2304.2 1186.4V1277.6M2307.6 1179.2V1287.5M2310.9 1172.9V1293M2314.2 1192.1V1311.7M2317.5 1189.9V1309.5M2320.8 1189.4V1328.7M2324.1 1188.9V1345.9M2327.4 1203.6V1360.8M2330.7 1200.9V1360.5M2334 1198.8V1345.9M2337.3 1211.6V1351.6M2340.6 1221.7V1362.8M2343.9 1226.5V1342.8M2347.2 1233.2V1345.2M2350.5 1238.3V1323.7M2353.8 1236V1303.8M2357.1 1223V1318.7M2360.4 1221.6V1337.8M2363.7 1209.8V1315.2M2367 1207.6V1309.9M2370.3 1210V1320.4M2373.6 1193V1307.8M2376.9 1203.4V1274.6M2380.2 1214.2V1307.3M2383.6 1186.1V1317.7M2386.9 1174.5V1304.8M2390.2 1175.8V1300M2393.5 1173.4V1300.3M2396.8 1167V1310M2400.1 1170.4V1296.2M2403.4 1161.4V1295.4M2406.7 1171.1V1265.1" fill="none" stroke="#808080" stroke-width="9.1" stroke-linecap="round"/>
<path d="M278.7 1592.5h0M282 1528.3h0M282 1617.2h0M285.3 1615.7h0M295.2 1505h0M295.2 1589.4h0M295.2 1474.3h0M311.7 1584.9h0M311.7 1464.4h0M324.9 1597.4h0M348.1 1591.8h0M358 1578.8h0M361.3 1715.3h0M364.6 1747.7h0M377.8 1599.9h0M387.7 1674.3h0M394.3 1694.4h0M397.6 1503.4h0M417.5 1643.1h0M434 1465.2h0M437.3 1648.5h0M443.9 1614.4h0M463.7 1455.7h0M467 1595.2h0M473.6 1437.6h0M473.6 1598h0M483.6 1465h0M493.5 1617.4h0M496.8 1654.6h0M503.4 1540.4h0M510 1545.1h0M526.5 1567h0M526.5 1682.6h0M539.7 1681.7h0M549.6 1496.3h0M549.6 1674.8h0M552.9 1497.4h0M566.2 1603.2h0M576.1 1628.1h0M602.5 1591.8h0M619 1556.5h0M622.3 1555.8h0M632.2 1558.5h0M648.8 1483.7h0M658.7 1692.4h0M665.3 1546.9h0M665.3 1711.7h0M688.4 1535.9h0M691.7 1669.7h0M695 1642h0M701.6 1617.5h0M708.2 1474.6h0M708.2 1632.2h0M718.2 1614.9h0M721.5 1581.1h0M731.4 1468.3h0M757.8 1524.7h0M764.4 1415.5h0M764.4 1536h0M767.7 1553.4h0M784.2 1560h0M787.6 1543.2h0M790.9 1417.5h0M797.5 1602h0M800.8 1457h0M800.8 1615.7h0M807.4 1469.7h0M820.6 1658h0M823.9 1510.4h0M827.2 1721.2h0M833.8 1512.8h0M837.1 1511.1h0M847 1440.9h0M850.3 1648.1h0M853.6 1642.5h0M870.2 1553.6h0M870.2 1582.1h0M880.1 1457.9h0M893.3 1539.3h0M909.8 1547.9h0M913.1 1535.6h0M916.4 1517.1h0M919.7 1507.8h0M923 1531.5h0M932.9 1540.3h0M952.8 1409.6h0M959.4 1438.9h0M972.6 1662.9h0M975.9 1496.6h0M979.2 1631.1h0M989.1 1476.7h0M989.1 1627.5h0M1038.7 1383.4h0M1038.7 1532h0M1042 1387.7h0M1045.3 1366.1h0M1048.6 1352.9h0M1051.9 1509.1h0M1051.9 1520.2h0M1055.2 1487.4h0M1058.5 1513h0M1065.1 1334.5h0M1068.4 1494.8h0M1071.7 1484.2h0M1075 1326.8h0M1078.3 1306.5h0M1134.5 1446h0M1147.7 1423.9h0M1157.6 1400.9h0M1160.9 1394.4h0M1207.2 1484.4h0M1210.5 1476.6h0M1210.5 1499.4h0M1217.1 1481.8h0M1230.3 1477.7h0M1240.2 1336.3h0M1253.5 1517.7h0M1256.8 1550.8h0M1263.4 1389.9h0M1283.2 1439.8h0M1286.5 1443.6h0M1299.7 1590.6h0M1306.3 1557.5h0M1312.9 1524.9h0M1329.5 1345.6h0M1329.5 1530.3h0M1339.4 1328.8h0M1346 1488h0M1346 1502.9h0M1352.6 1477.5h0M1352.6 1505.9h0M1359.2 1470.6h0M1359.2 1484.1h0M1369.1 1474h0M1375.7 1313.7h0M1379 1452.7h0M1379 1472.2h0M1382.3 1474.5h0M1385.6 1450.3h0M1385.6 1288.9h0M1388.9 1300.6h0M1392.2 1456.5h0M1395.6 1481.1h0M1412.1 1532.5h0M1415.4 1383.1h0M1415.4 1350.6h0M1422 1550.2h0M1435.2 1581.5h0M1438.5 1376h0M1451.7 1525.1h0M1461.6 1326.7h0M1471.6 1309.4h0M1471.6 1490.5h0M1471.6 1512.6h0M1474.9 1287.9h0M1474.9 1496h0M1484.8 1457.7h0M1491.4 1268.3h0M1501.3 1285.8h0M1507.9 1418.4h0M1514.5 1256.8h0M1521.1 1273.9h0M1527.7 1441.2h0M1531 1254h0M1537.6 1274.5h0M1540.9 1256h0M1540.9 1423.3h0M1544.2 1436.9h0M1554.2 1459h0M1554.2 1252.4h0M1554.2 1479h0M1577.3 1395.4h0M1593.8 1562.3h0M1600.4 1508h0M1607 1502.6h0M1630.2 1276.6h0M1630.2 1455.8h0M1636.8 1290h0M1650 1432.7h0M1653.3 1268.5h0M1659.9 1399.9h0M1659.9 1217.9h0M1663.2 1234.7h0M1666.5 1234.2h0M1666.5 1399.2h0M1676.4 1394.8h0M1692.9 1386.4h0M1696.2 1314.7h0M1702.9 1322.2h0M1706.2 1332.6h0M1706.2 1421.9h0M1709.5 1426.5h0M1709.5 1345.1h0M1712.8 1349.8h0M1729.3 1488.8h0M1732.6 1516.5h0M1735.9 1519.5h0M1742.5 1375.6h0M1755.7 1448.3h0M1759 1431.3h0M1765.6 1298.2h0M1768.9 1304.3h0M1772.2 1286.5h0M1775.6 1286.3h0M1792.1 1381.7h0M1792.1 1391.9h0M1795.4 1376.5h0M1802 1379.2h0M1811.9 1294.5h0M1811.9 1387.6h0M1815.2 1363.8h0M1815.2 1284h0M1821.8 1398.3h0M1831.7 1394h0M1841.6 1370.6h0M1858.2 1299.2h0M1864.8 1315.7h0M1884.6 1333.8h0M1887.9 1442h0M1894.5 1327.2h0M1907.7 1391.9h0M1907.7 1424.9h0M1911 1276.5h0M1911 1427.8h0M1920.9 1396.1h0M1937.5 1277.2h0M1947.4 1355.2h0M1947.4 1374.2h0M1954 1356.5h0M1954 1249.3h0M1963.9 1351.8h0M1963.9 1371.5h0M1967.2 1250.6h0M1970.5 1282.4h0M1983.7 1262.7h0M1983.7 1340.9h0M1987 1362.6h0M1990.3 1339.2h0M1993.6 1354.4h0M2000.2 1338.9h0M2010.2 1366.7h0M2016.8 1373.6h0M2023.4 1294.8h0M2026.7 1298.2h0M2026.7 1278.7h0M2046.5 1305.4h0M2063 1410h0M2072.9 1250.6h0M2082.9 1405h0M2096.1 1398.3h0M2099.4 1358.5h0M2109.3 1376.6h0M2109.3 1400.9h0M2115.9 1210.1h0M2125.8 1343h0M2125.8 1370.2h0M2132.4 1195.5h0M2139 1334.7h0M2152.2 1344.7h0M2172.1 1411.5h0M2175.4 1219.3h0M2191.9 1414h0M2198.5 1248.2h0M2198.5 1426.1h0M2205.1 1369.2h0M2218.3 1396.9h0M2224.9 1384.5h0M2231.6 1388.9h0M2244.8 1363.4h0M2254.7 1172h0M2254.7 1376.3h0M2261.3 1353h0M2277.8 1165.3h0M2291 1298.9h0M2291 1309.6h0M2297.6 1287.1h0M2304.2 1175.1h0M2310.9 1308.5h0M2320.8 1342.7h0M2330.7 1183.7h0M2334 1362.3h0M2353.8 1340.6h0M2357.1 1330.7h0M2363.7 1330.7h0M2367 1195.7h0M2367 1339.7h0M2376.9 1313.6h0M2406.7 1280.3h0M396.9 1411.4h0M304.1 1470.1h0M341.2 1480.1h0M638.4 1418.9h0M445.9 1455.2h0M409.9 1488.1h0M416.8 1490.4h0M555.3 1489.5h0M674.4 1541.1h0M764.5 1567.4h0M750.6 1572.6h0M751.2 1587.3h0M744.2 1617h0M704.3 1642.7h0M324.6 1619.7h0M337.3 1649.6h0M413.2 1702.8h0M376.6 1723h0M508.8 1719.4h0M519.3 1720.8h0M555.9 1707.8h0M559.5 1694h0M569.2 1690.6h0M555.3 1681.5h0M568.6 1675.4h0M558.1 1662.1h0M849.8 1639.1h0M853.1 1653.8h0M842 1648.8h0M443.1 1641.3h0M452.8 1635h0M452.8 1613.6h0M444.5 1620.6h0M436.2 1624.7h0M419.6 1653.8h0M411.3 1652.4h0M322.6 1608.1h0M945.6 1295.2h0M1078 1297.6h0M1091.8 1315.4h0M1237 1299h0M1394 1261.1h0M1377.1 1269.4h0M1377.7 1285.5h0M1360.5 1291.6h0M1353.6 1304h0M1340.3 1315.7h0M1327 1317.3h0M1327 1333.1h0M1170.5 1357.5h0M1193.5 1353h0M1302.9 1357.5h0M1295.4 1371.1h0M1297.9 1390.4h0M1269.9 1400.4h0M899.9 1373.3h0M863.3 1425.1h0M972.4 1466.6h0M995.4 1448.1h0M959.4 1442.5h0M915.9 1547.2h0M900.4 1546.4h0M915.9 1585.7h0M886 1574.1h0M860 1618.4h0M1045.3 1523.7h0M1031.4 1533.9h0M1093.8 1511.8h0M1206.8 1499.3h0M1177.4 1571.9h0M1167.7 1599.6h0M1121.5 1631.4h0M1167.7 1672.4h0M1321.5 1643.4h0M1327.8 1548.3h0M1327 1517.9h0M1337.5 1513.7h0M1350.8 1504.3h0M1354.2 1486.8h0M1420.1 1567.2h0M1433.1 1571.3h0M1413.7 1581h0M1413.7 1591.3h0M1015.4 1603.2h0M1002.4 1589.3h0M992.7 1612.9h0M1002.4 1625.9h0M1016.2 1615.7h0M1007.9 1639.2h0M1019 1635.9h0M992.1 1633.7h0M982.4 1647.5h0M1397.1 1479.9h0M1298.8 1597.6h0M1522.8 1210.7h0M1664.9 1204.1h0M1671.8 1208.8h0M1800.6 1216.5h0M1975.7 1231.5h0M1949.4 1234.5h0M1992.3 1243.4h0M1833.9 1244.2h0M1858 1252.3h0M1864.3 1256.4h0M1496.5 1255.9h0M1536.6 1246.2h0M1546.3 1257.3h0M1635 1257.3h0M1639.1 1268.3h0M1813.7 1264.2h0M1804 1271.1h0M1823.4 1274.7h0M1790.1 1282.2h0M1780.4 1289.7h0M1850.5 1273.3h0M1860.2 1275.3h0M1883.2 1282.2h0M1876.8 1307.1h0M1928.6 1251.7h0M1942.5 1244.8h0M1953.5 1248.9h0M1959.1 1253.1h0M1953 1261.4h0M2018.6 1280.2h0M1459.9 1293.8h0M1466 1295.2h0M1714.8 1319.6h0M1744.4 1335.7h0M1731.4 1348.7h0M1579 1352.3h0M1586 1370.8h0M1563 1338.1h0M1522.8 1445.1h0M1509.8 1456.1h0M1490.4 1479.4h0M1479.9 1505.7h0M1479.9 1514.9h0M1479.9 1521.8h0M1516.4 1529.6h0M1502.9 1542.6h0M1456.9 1557.3h0M1456.9 1575.3h0M1588.7 1577.2h0M1612 1568.9h0M1568.5 1545.3h0M1638.6 1474.7h0M1704.2 1437.3h0M1688.2 1413.8h0M1707 1456.7h0M1734.7 1514.9h0M1737.5 1499.6h0M1759.6 1446.2h0M1832.2 1394.4h0M1880.1 1483.6h0M1896.8 1512.4h0M1910.1 1447h0M1866.3 1449.8h0M1936.4 1393.8h0M1972.4 1378.3h0M2002.9 1402.1h0M2005.6 1367.2h0M1999.3 1347.3h0M1915.3 1423.5h0M1915.3 1430.4h0M2028.3 1454.5h0M2144.6 1127.3h0M2403.1 1098.5h0M2403.6 1124h0M2369.8 1135.9h0M2392.6 1145.3h0M2403.6 1151.7h0M2369.8 1158.1h0M2369.8 1182.2h0M2323.3 1138.4h0M2280.4 1138.4h0M2283.7 1150.9h0M2297 1148.9h0M2313.6 1152.3h0M2237.4 1153.1h0M2263.7 1152.3h0M2329.7 1175.8h0M2144.6 1171.1h0M2174.3 1171.9h0M2105.3 1188.3h0M2137.7 1184.4h0M2139.1 1194.7h0M2137.7 1203.8h0M2173.7 1196h0M2184.2 1219.6h0M2190.3 1245.3h0M2045.5 1278.3h0M2035.2 1312.4h0M2218.9 1223.7h0M2038.5 1490.5h0M2044.9 1445.3h0M2075.4 1455.9h0M2114.7 1455.9h0M2111.4 1441.2h0M2078.2 1437h0M2061.5 1431.5h0M2071.2 1423.2h0M2078.2 1414.3h0M2091.4 1408h0M2115.5 1419h0M2121.1 1405.2h0M2098.4 1391.3h0M2115 1390.8h0M2111.4 1523.5h0M2197.3 1455h0M2240.2 1472.5h0M2223.6 1411.6h0M2267.1 1406h0M2316.4 1417.6h0M2336.6 1414.3h0M2336.6 1396.3h0M2339.9 1382.2h0M2357.9 1408.5h0M2369.6 1376.9h0M2371.8 1365h0M2393.9 1359.5h0M2231.9 1393.5h0M2220.8 1389.9h0M2204.2 1395.5h0M2255.4 1352.5h0M2267.1 1358.1h0M2280.4 1347h0M2292.8 1316.5h0M2377.3 1347h0M2359.3 1349.8h0M2118.3 1547.4h0M2055.4 1579.3h0M2234.1 1560.4h0" fill="none" stroke="#808080" stroke-width="9.1" stroke-linecap="round"/>
<path d="M282.1 1582.3h0M285.4 1577.7h0M288.7 1573.4h0M291.9 1571.4h0M295.2 1576.7h0M298.5 1582.8h0M301.8 1585.2h0M305.1 1586.8h0M308.3 1582.4h0M311.6 1581.3h0M314.9 1576h0M318.2 1575.4h0M321.5 1573.7h0M324.7 1570.9h0M328 1569.3h0M331.3 1568.5h0M334.6 1567.6h0M337.9 1568.5h0M339.3 1585.1h0M342.4 1583.6h0M345.5 1586.4h0M348.6 1587.7h0M351.7 1588.6h0M354.8 1588.2h0M358 1589.1h0M361.1 1595h0M364.2 1599.5h0M365.6 1622.2h0M368.9 1623.6h0M372.1 1625.3h0M375.4 1625.9h0M378.7 1629h0M382 1628.3h0M385.3 1625.3h0M388.5 1623.6h0M391.8 1618.9h0M395.1 1613.5h0M398.4 1609.6h0M401.7 1607.2h0M405 1603.7h0M408.2 1602.1h0M411.5 1600.1h0M414.8 1598.7h0M418.1 1593h0M421.4 1588.4h0M424.7 1584.6h0M427.9 1581.4h0M431.2 1578.2h0M434.5 1573.2h0M437.8 1569.3h0M441.1 1564.7h0M444.4 1561.5h0M447.6 1560.8h0M450.9 1554.7h0M454.2 1553.1h0M457.5 1552.5h0M460.8 1550.4h0M464.1 1549.7h0M467.3 1550.4h0M470.6 1548.8h0M473.9 1550.1h0M477.2 1549.7h0M480.5 1551.4h0M483.8 1552h0M487 1548.1h0M490.3 1546.1h0M493.6 1555.2h0M496.9 1559.6h0M500.2 1566.6h0M503.5 1574.8h0M506.7 1582.4h0M510 1589h0M513.3 1592.9h0M516.6 1597.1h0M519.9 1595.5h0M523.2 1596.3h0M526.4 1601.3h0M529.7 1607.2h0M533 1610.8h0M536.3 1613.6h0M539.6 1615.7h0M542.9 1615.2h0M551.2 1602.2h0M554.5 1593.1h0M557.9 1590.2h0M561.2 1587.3h0M564.6 1583h0M567.9 1581.2h0M571.3 1575.5h0M574.7 1571.3h0M578 1565.7h0M581.4 1557.8h0M584.7 1551.9h0M588.1 1545.9h0M591.4 1542.7h0M594.8 1536.4h0M598.1 1533.5h0M601.5 1530.5h0M604.9 1527h0M608.2 1522.6h0M611.6 1520h0M614.9 1513.9h0M618.3 1512.5h0M621.6 1511.9h0M625 1509.2h0M628.4 1508.2h0M631.7 1503h0M635.1 1501.7h0M638.4 1499.3h0M641.7 1510.9h0M645.1 1524h0M648.4 1532h0M651.7 1534.5h0M655.1 1534.7h0M658.4 1538.6h0M661.7 1545.4h0M665.1 1554.7h0M668.4 1559.8h0M671.7 1564.6h0M675.1 1570.3h0M678.4 1575.3h0M681.7 1579.4h0M685.1 1580.9h0M688.4 1573.6h0M691.7 1568.5h0M695.1 1572.5h0M698.4 1575.7h0M701.7 1576.9h0M705.1 1570.9h0M708.4 1568.4h0M711.7 1564.3h0M715.1 1560.8h0M718.4 1559.8h0M721.7 1556.9h0M725.1 1553.4h0M728.4 1545.3h0M731.7 1536.9h0M735.1 1532.6h0M738.4 1525.1h0M741.7 1521.4h0M745.1 1515.3h0M746.5 1502.5h0M749.8 1500.6h0M753.2 1498.9h0M756.6 1497.2h0M760 1495.4h0M763.4 1492.8h0M766.8 1492.9h0M770.2 1491.6h0M773.5 1487.4h0M776.9 1486.4h0M779.7 1473.4h0M782.8 1470.9h0M785.9 1473.2h0M789 1475.6h0M792.2 1478.3h0M793.5 1494.5h0M796.9 1497.9h0M800.2 1503.8h0M803.5 1502.7h0M806.8 1512.2h0M810.2 1524.4h0M813.5 1532.6h0M816.8 1537.7h0M820.1 1544.5h0M823.5 1547.8h0M826.8 1548.8h0M830.1 1552.6h0M833.4 1555.1h0M836.8 1558.2h0M840.1 1559h0M843.4 1560.9h0M846.2 1545.7h0M849.5 1543.3h0M852.9 1543h0M856.2 1537.6h0M859.6 1533.1h0M862.9 1528.6h0M866.3 1524.1h0M869.6 1520.9h0M873 1516.3h0M876.3 1510.6h0M879.7 1506.5h0M883 1500.7h0M886.4 1497.2h0M889.8 1494.8h0M893.1 1496.4h0M896.5 1495.5h0M899.8 1493.1h0M903.2 1488.1h0M906.5 1480.6h0M909.9 1476.1h0M913.2 1470.6h0M916.6 1465.3h0M919.9 1458.3h0M923.3 1454.7h0M926.6 1453.5h0M930 1450.2h0M933.3 1451.2h0M936.7 1450.7h0M940 1452.3h0M942.8 1476.9h0M945.6 1463.4h0M949 1465.6h0M952.3 1468.9h0M955.7 1480.7h0M959.1 1491.3h0M962.5 1501.1h0M965.9 1506.6h0M969.3 1515.7h0M972.7 1523.9h0M976 1534.5h0M984.3 1532.1h0M987.4 1526.8h0M990.4 1525.8h0M993.5 1526.7h0M996.5 1533.8h0M999.6 1535.4h0M1001 1522.6h0M1004.3 1521.9h0M1007.6 1521.8h0M1010.9 1521.2h0M1014.2 1516.8h0M1017.4 1511.7h0M1020.7 1507.2h0M1024 1503.1h0M1027.3 1499.6h0M1030.6 1496h0M1033.9 1495.4h0M1037.2 1493h0M1040.5 1489.2h0M1043.8 1485.5h0M1047.1 1479.5h0M1050.4 1475.5h0M1053.7 1472.9h0M1057 1470.5h0M1060.3 1467.1h0M1063.6 1464.6h0M1066.9 1460.4h0M1070.2 1452.9h0M1073.5 1445.2h0M1076.8 1440.2h0M1080.1 1434h0M1083.4 1429.8h0M1086.7 1428.6h0M1089.9 1433.1h0M1093.2 1439.4h0M1096.5 1446.1h0M1099.8 1450.3h0M1103.1 1450.9h0M1106.4 1457.4h0M1109.7 1462.5h0M1113 1467.6h0M1116.3 1476.1h0M1119.6 1483.3h0M1122.9 1490.2h0M1126.2 1498h0M1129.5 1500.5h0M1132.8 1509.1h0M1136.1 1503.2h0M1139.4 1496.1h0M1142.7 1497h0M1146 1496.2h0M1149.3 1497h0M1152.6 1495.8h0M1155.9 1494.7h0M1159.2 1490.1h0M1162.4 1486.5h0M1165.7 1483h0M1169 1477h0M1172.3 1466.8h0M1175.6 1462.2h0M1178.9 1457.5h0M1182.2 1452h0M1185.5 1448h0M1188.8 1442.3h0M1192.1 1438.1h0M1195.4 1432.8h0M1198.7 1428.6h0M1202 1427.1h0M1205.3 1427.1h0M1208.6 1426.4h0M1211.9 1429.9h0M1215.2 1428.6h0M1218.5 1431.8h0M1221.8 1431.4h0M1225.1 1432.3h0M1228.4 1433.4h0M1231.7 1432.9h0M1234.9 1432.5h0M1238.2 1431.7h0M1241.5 1431.3h0M1244.8 1430.7h0M1248.1 1432.5h0M1251.4 1436.3h0M1254.7 1442.2h0M1258 1442.1h0M1261.3 1441.6h0M1264.6 1442.8h0M1267.9 1444.2h0M1271.2 1447.3h0M1274.5 1451.6h0M1277.8 1459.7h0M1281.1 1470.2h0M1284.4 1474.1h0M1287.7 1480.2h0M1293.2 1496.3h0M1296.5 1493.4h0M1299.8 1488.2h0M1303.1 1486h0M1306.4 1479.7h0M1309.6 1474.9h0M1312.9 1472.7h0M1316.2 1466.9h0M1319.5 1461h0M1322.8 1458.5h0M1326.1 1454.2h0M1329.4 1448.2h0M1332.6 1445.8h0M1335.9 1442.2h0M1339.2 1433.7h0M1342.5 1430.1h0M1345.8 1429.9h0M1349.1 1428.8h0M1352.4 1426.3h0M1355.6 1427.5h0M1358.9 1425.4h0M1362.2 1421.9h0M1365.5 1418.9h0M1368.8 1416.5h0M1372.1 1415h0M1375.3 1412.7h0M1378.6 1410.3h0M1381.9 1410.5h0M1385.2 1409.9h0M1388.5 1411.9h0M1391.8 1412.6h0M1395.1 1421.2h0M1398.3 1428.9h0M1401.6 1440.6h0M1404.9 1445.1h0M1408.2 1443.6h0M1411.5 1440.9h0M1414.8 1442.4h0M1418.1 1442.2h0M1421.3 1445.3h0M1424.6 1453.9h0M1427.9 1462.7h0M1431.2 1460.7h0M1434.5 1457.1h0M1439.7 1445.8h0M1442.9 1445.2h0M1446.2 1447h0M1449.4 1449.3h0M1452.2 1431.8h0M1455.5 1427.2h0M1458.9 1426.9h0M1462.2 1426.6h0M1465.6 1426.2h0M1468.9 1430.8h0M1472.3 1433.3h0M1475.6 1427.6h0M1479 1421.7h0M1482.3 1417.3h0M1485.7 1411.1h0M1489 1408.2h0M1492.4 1405h0M1495.8 1400.4h0M1499.1 1398.7h0M1502.5 1396.7h0M1505.8 1397.2h0M1509.2 1396.1h0M1512.5 1394.1h0M1515.9 1395.5h0M1518.6 1383.8h0M1521.9 1380.3h0M1525.2 1378.1h0M1528.4 1374.5h0M1531.7 1373.1h0M1535 1371.3h0M1538.2 1371.3h0M1541.5 1369.9h0M1544.8 1368.8h0M1548 1370.1h0M1551.3 1373.3h0M1554.6 1375.5h0M1557.8 1380.6h0M1561.1 1388.4h0M1564.3 1391.9h0M1567.1 1405.4h0M1570.3 1410.6h0M1573.5 1417h0M1576.7 1423.4h0M1579.9 1430.1h0M1583.1 1429.5h0M1586.3 1429.2h0M1589.5 1432.5h0M1592.7 1436h0M1595.9 1434.7h0M1599.1 1429.9h0M1602.4 1427.7h0M1605.6 1427.1h0M1608.8 1425.2h0M1612 1427.9h0M1615.2 1429.3h0M1618.4 1428.2h0M1618.4 1414.2h0M1621.7 1405.9h0M1625 1406h0M1628.4 1405.1h0M1631.7 1403.8h0M1635 1399.2h0M1638.3 1394.8h0M1641.7 1388.9h0M1645 1383.8h0M1648.3 1378.1h0M1651.7 1371.6h0M1655 1368.8h0M1658.3 1360.2h0M1661.7 1361.6h0M1665 1362.1h0M1668.3 1362.2h0M1671.7 1363.5h0M1675 1363.8h0M1678.3 1364h0M1681.6 1362h0M1685 1361.4h0M1688.3 1357.8h0M1691.6 1358.6h0M1695 1355.4h0M1698.3 1356.6h0M1701.6 1354.9h0M1705 1359.3h0M1708.3 1361.5h0M1711.6 1365.3h0M1715 1370.1h0M1718.3 1377.5h0M1721.6 1382.3h0M1724.9 1385.5h0M1728.3 1390.1h0M1731.6 1396.8h0M1734.9 1398.9h0M1738.3 1401.8h0M1741.6 1406.4h0M1744.9 1403.7h0M1748.3 1404.3h0M1751.6 1405.4h0M1754.9 1403.2h0M1758.3 1403h0M1761 1392.1h0M1764.3 1387.9h0M1767.6 1385.3h0M1770.9 1380.8h0M1774.2 1378.3h0M1777.5 1374.2h0M1780.8 1372.7h0M1784.1 1367.2h0M1787.4 1363h0M1790.7 1356.5h0M1794 1350.8h0M1797.2 1344.7h0M1800.5 1339.4h0M1803.8 1338.3h0M1807.1 1337.1h0M1810.4 1334.3h0M1813.7 1331.4h0M1817 1329.4h0M1820.3 1328.7h0M1823.6 1326.1h0M1826.9 1323.3h0M1830.2 1323.3h0M1833.5 1320.3h0M1836.8 1321.5h0M1840.1 1321.1h0M1843.3 1319.7h0M1846.6 1320h0M1849.9 1321.9h0M1853.2 1328.1h0M1856.5 1332.7h0M1859.8 1337.7h0M1863.1 1341.4h0M1866.4 1345.4h0M1869.7 1348.1h0M1873 1355.7h0M1876.3 1358.1h0M1879.6 1364.1h0M1882.9 1371.2h0M1886.2 1375.4h0M1889.4 1381.4h0M1892.7 1384h0M1896 1380.9h0M1899.3 1373.1h0M1902.6 1370.2h0M1905.9 1364.8h0M1909.2 1360.3h0M1912.5 1357h0M1915.8 1356.2h0M1919.1 1356.6h0M1922.4 1353.9h0M1925.7 1349.8h0M1929 1344.8h0M1932.3 1340.8h0M1935.5 1333.8h0M1938.8 1331.8h0M1942.1 1333.1h0M1945.4 1331.2h0M1948.7 1329.6h0M1952 1327.6h0M1955.3 1323.1h0M1958.6 1322.9h0M1961.9 1320.2h0M1965.2 1314.1h0M1968.5 1313.3h0M1971.8 1308.8h0M1975.1 1306.2h0M1978.3 1303.5h0M1981.6 1298.7h0M1984.9 1296.1h0M1988.2 1293.4h0M1991.5 1294.8h0M1994.8 1295.5h0M1998.1 1298.7h0M2001.4 1299.5h0M2004.7 1302.3h0M2008 1302.4h0M2011.3 1306.9h0M2014.6 1309.5h0M2017.9 1314.6h0M2021.2 1318.1h0M2024.4 1324.6h0M2027.7 1330.2h0M2031 1334.3h0M2034.3 1339.9h0M2037.6 1344.6h0M2040.9 1351.5h0M2044.2 1351.9h0M2047.5 1357.8h0M2050.8 1357.2h0M2054.1 1357.8h0M2057.4 1354.6h0M2058.8 1344.3h0M2062 1341.4h0M2065.3 1335.3h0M2068.5 1330h0M2071.8 1326.7h0M2075.1 1327h0M2078.3 1327.2h0M2081.6 1323.8h0M2084.8 1312.9h0M2088.1 1312h0M2091.4 1308.7h0M2094.6 1305.4h0M2097.9 1299.3h0M2101.1 1295.4h0M2104.4 1298h0M2107.6 1301.7h0M2110.9 1296.1h0M2114.2 1288.7h0M2117.4 1286h0M2120.7 1282.7h0M2123.9 1283.9h0M2127.2 1286.1h0M2130.5 1288.8h0M2133.7 1287.2h0M2137 1285.7h0M2140.2 1280.5h0M2143.5 1272.7h0M2146.8 1266h0M2150 1260.9h0M2153.3 1260.1h0M2156.5 1261h0M2159.8 1261.6h0M2163 1268.6h0M2166.3 1275.1h0M2169.6 1280.4h0M2171 1291.4h0M2174.2 1299h0M2177.5 1304.5h0M2180.8 1311.9h0M2184.1 1316.2h0M2187.4 1320.5h0M2190.6 1326.9h0M2193.9 1328.4h0M2197.2 1331.9h0M2200.5 1331.9h0M2203.8 1328.1h0M2207.1 1325.4h0M2210.3 1320.6h0M2213.6 1319.4h0M2216.9 1316.3h0M2220.2 1311.1h0M2223.5 1305h0M2226.7 1300.6h0M2230 1294.6h0M2233.3 1293.8h0M2236.6 1289.4h0M2239.9 1281.1h0M2243.2 1273.9h0M2246.4 1266.9h0M2249.7 1262.8h0M2253 1258.1h0M2256.3 1258.7h0M2259.6 1258.1h0M2262.8 1253.8h0M2266.1 1252.2h0M2269.4 1249h0M2272.7 1245.6h0M2276 1246.8h0M2279.3 1245.7h0M2282.5 1241h0M2285.8 1236.7h0M2289.1 1235.8h0M2292.4 1234.3h0M2295.7 1232.7h0M2298.9 1231.7h0M2302.2 1232.3h0M2305.5 1231.5h0M2308.8 1229.6h0M2312.1 1233h0M2315.4 1232.9h0M2318.6 1234h0M2321.9 1243h0M2326.1 1253.9h0M2329.3 1257.2h0M2332.6 1262.1h0M2335.9 1265.6h0M2339.1 1273.9h0M2342.4 1284.5h0M2345.7 1297.2h0M2348.9 1293.7h0M2352.2 1291.9h0M2355.5 1287h0M2358.7 1287.3h0M2362 1286.5h0M2365.3 1280.4h0M2368.5 1277.7h0M2371.8 1273h0M2375.1 1265.6h0M2378.3 1260.5h0M2381.6 1253.5h0M2384.9 1247.8h0M2388.1 1242h0M2391.4 1238.6h0M2394.7 1234.3h0M2397.9 1234.8h0M2401.2 1233.8h0M2404.5 1230h0" fill="none" stroke="#ff0000" stroke-width="10.2" stroke-linecap="round"/>
<path d="M282.1 1627.1h0M285.4 1624.8h0M288.8 1619.1h0M292.1 1615.3h0M295.4 1612.2h0M298.7 1608.2h0M302 1609.3h0M305.3 1605.1h0M308.6 1603.3h0M311.9 1602.9h0M315.2 1601.7h0M318.5 1596.5h0M321.8 1595.2h0M325.1 1592.5h0M328.4 1589.3h0M331.7 1589.6h0M335 1589.5h0M338.3 1593h0M341.6 1597.1h0M344.9 1599.5h0M348.2 1599.3h0M351.5 1601.4h0M354.8 1603.8h0M358.1 1605.9h0M361.4 1609.8h0M364.2 1628h0M365.6 1647h0M368.8 1650.7h0M372.1 1651.5h0M375.4 1648.7h0M378.7 1645.5h0M381.9 1644.1h0M385.2 1646.4h0M388.5 1644.6h0M391.8 1641.7h0M395 1639.9h0M398.3 1634.4h0M401.6 1630.4h0M404.9 1626.6h0M408.1 1622.8h0M411.4 1619.9h0M414.7 1614.4h0M417.9 1609.3h0M421.2 1605.7h0M424.5 1603.2h0M427.8 1600.6h0M431 1597.5h0M434.3 1592.4h0M437.6 1590.5h0M440.9 1588h0M444.1 1586.2h0M447.4 1583.1h0M450.7 1582.5h0M454 1581.5h0M457.2 1578.6h0M460.5 1576.2h0M463.8 1574.6h0M467.1 1572.5h0M470.3 1571.4h0M473.6 1570.2h0M476.9 1566.6h0M480.1 1567.6h0M483.4 1567.9h0M486.7 1566.7h0M490 1568.2h0M493.2 1575.1h0M496.5 1580.6h0M499.8 1585.6h0M503.1 1589.3h0M506.3 1594.1h0M509.6 1602.9h0M512.4 1617.1h0M515.7 1615.8h0M519 1612h0M522.4 1617.9h0M525.7 1622.4h0M529 1630.5h0M532.3 1626.5h0M535.7 1625.2h0M539 1626.1h0M542.3 1628.5h0M545.6 1623.8h0M548.9 1619.2h0M552.3 1614.1h0M555.6 1613h0M558.9 1605.9h0M562.2 1600.3h0M565.6 1596.9h0M568.9 1592.3h0M572.2 1588h0M575.5 1581h0M578.9 1580.6h0M582.2 1574.2h0M585.5 1571.1h0M588.8 1568.1h0M592.2 1566.5h0M595.5 1563.7h0M598.8 1564.2h0M602.1 1563.1h0M605.5 1559.2h0M608.8 1556.7h0M612.1 1554.2h0M615.4 1552.5h0M618.8 1549h0M622.1 1548.1h0M625.4 1548.4h0M628.7 1542.9h0M632 1539.5h0M635.4 1538.1h0M638.7 1537.6h0M642 1543.1h0M645.3 1543h0M648.7 1546h0M652 1550.2h0M655.3 1555.7h0M658.6 1560.2h0M662 1566.7h0M664.7 1579.7h0M668 1583.9h0M671.3 1590.2h0M674.6 1595.6h0M677.8 1595.3h0M681.1 1597.8h0M684.4 1595.2h0M687.7 1594.6h0M690.9 1597.4h0M694.2 1597.5h0M697.5 1596.4h0M700.7 1595.4h0M704 1588.5h0M707.3 1583.5h0M710.6 1575.1h0M713.8 1571.6h0M717.1 1564.9h0M720.4 1562.7h0M723.7 1557.7h0M726.9 1552.8h0M730.2 1545.2h0M733.5 1544.6h0M736.8 1543.6h0M740 1541.9h0M743.3 1539.9h0M746.6 1541.3h0M749.9 1541.2h0M753.1 1534.1h0M756.4 1532.6h0M759.7 1529.8h0M762.9 1526h0M766.2 1526.6h0M769.5 1522.3h0M772.8 1521.4h0M776 1518h0M779.3 1518.1h0M782.6 1517.3h0M785.9 1517.2h0M789.1 1521.4h0M792.4 1520.5h0M795.7 1525.9h0M799 1528.7h0M802.2 1530.5h0M805.5 1535.2h0M808.8 1534.2h0M814.3 1556.2h0M817.6 1556.2h0M821 1560.8h0M824.3 1566.9h0M827.6 1571.1h0M830.9 1576.2h0M834.2 1580.2h0M837.5 1579h0M840.8 1576.7h0M844.2 1577.9h0M847.5 1575.6h0M850.8 1572.6h0M854.1 1571h0M857.4 1567.4h0M860.7 1562h0M864 1552.9h0M867.4 1543.9h0M870.7 1540.8h0M874 1541.1h0M877.3 1536.3h0M880.6 1532.8h0M883.9 1526.7h0M887.2 1524.4h0M890.6 1522.9h0M893.9 1523h0M897.2 1520.4h0M900.5 1515.8h0M903.8 1511.3h0M907.1 1509.3h0M910.4 1506.3h0M913.8 1506.8h0M917.1 1503.2h0M920.4 1502.9h0M923.7 1499.3h0M927 1498.6h0M930.3 1500.3h0M933.6 1500.7h0M937 1497.4h0M940.3 1496.4h0M943.6 1495h0M946.9 1502.3h0M950.2 1505.2h0M953.5 1511.2h0M956.8 1517.4h0M960.2 1520.3h0M963.5 1528.4h0M966.8 1531.6h0M970.1 1539.5h0M973.4 1540.4h0M976.7 1544.2h0M980 1544.4h0M983.4 1545.8h0M986.7 1546.6h0M990 1545.6h0M993.3 1548.2h0M996.6 1552.9h0M999.9 1549.6h0M1003.2 1548.3h0M1006.6 1545h0M1009.9 1541.1h0M1013.2 1538.9h0M1016.5 1536.1h0M1019.8 1529.9h0M1023.1 1520.7h0M1026.4 1515.2h0M1029.8 1507.2h0M1033.1 1503.4h0M1036.4 1500.1h0M1039.7 1498.2h0M1043 1496.4h0M1046.3 1491h0M1049.6 1487.8h0M1053 1483.6h0M1056.3 1486.4h0M1059.6 1486.4h0M1062.9 1485.6h0M1066.2 1483.2h0M1069.5 1484.7h0M1072.8 1482.7h0M1076.2 1477.3h0M1079.5 1475.1h0M1082.8 1474.4h0M1086.1 1472h0M1089.4 1472.3h0M1092.7 1473.4h0M1096 1475.1h0M1099.4 1479.3h0M1102.7 1482.3h0M1106 1486.7h0M1109.3 1491.4h0M1112.6 1492.2h0M1115.9 1495h0M1117.3 1511.3h0M1120.7 1513.7h0M1124 1517.5h0M1127.4 1525.2h0M1130.8 1534.5h0M1134.1 1530.2h0M1137.5 1525h0M1140.9 1525.1h0M1144.2 1524.4h0M1147.6 1527.1h0M1150.9 1525.5h0M1154.3 1527.9h0M1157.7 1524.5h0M1161 1526.3h0M1164.4 1524.1h0M1167.2 1509.4h0M1170.5 1508.2h0M1173.8 1505.8h0M1177.1 1503.5h0M1180.4 1493.4h0M1183.7 1491h0M1187 1486.3h0M1190.2 1481h0M1193.5 1479.8h0M1196.8 1476h0M1200.1 1475.5h0M1203.4 1471.7h0M1206.7 1471.4h0M1210 1467.7h0M1213.3 1467.9h0M1216.6 1464.6h0M1219.9 1464.5h0M1223.2 1460h0M1226.5 1457.3h0M1229.8 1458.9h0M1233.1 1454.3h0M1236.4 1456.3h0M1239.7 1455.4h0M1243 1454.4h0M1246.3 1453h0M1249.6 1456.8h0M1252.9 1463h0M1256.2 1467.2h0M1259.5 1474.7h0M1262.8 1476.1h0M1266.1 1471.8h0M1269.4 1478.9h0M1272.6 1490.1h0M1275.9 1492.9h0M1279.2 1496.1h0M1282.5 1498.7h0M1285.8 1500.3h0M1289.1 1507.1h0M1292.4 1514.3h0M1295.7 1513.9h0M1299 1511.7h0M1302.3 1505.2h0M1305.6 1503.7h0M1308.9 1499.2h0M1312.2 1495h0M1315.5 1487.8h0M1318.8 1483.8h0M1322.1 1482.3h0M1325.4 1478.7h0M1328.7 1473.9h0M1332 1469.4h0M1335.3 1464.3h0M1338.6 1460.6h0M1341.9 1456.2h0M1345.2 1452.1h0M1348.5 1451.1h0M1351.8 1447.4h0M1355 1442h0M1358.3 1439.2h0M1361.6 1437.1h0M1364.9 1441.2h0M1368.2 1442.5h0M1371.5 1434.3h0M1374.8 1428.5h0M1378.1 1428.7h0M1381.4 1425.3h0M1384.7 1423.7h0M1388 1423.7h0M1391.3 1426.1h0M1394.6 1423.3h0M1397.9 1427.6h0M1401.2 1432.5h0M1404.5 1437.4h0M1407.8 1435.8h0M1411.1 1437.5h0M1414.4 1447.9h0M1417.7 1451.3h0M1421 1460h0M1424.3 1463.2h0M1427.6 1467.7h0M1426.2 1486.8h0M1429.4 1482.2h0M1432.7 1476.2h0M1436 1475.5h0M1439.3 1476.9h0M1442.5 1478h0M1445.8 1477.5h0M1449.1 1479.2h0M1452.3 1479.1h0M1455.6 1475.6h0M1458.9 1471.1h0M1462.1 1464.8h0M1465.4 1459.1h0M1468.7 1453.7h0M1471.9 1449.3h0M1475.2 1444.2h0M1478.5 1440.4h0M1481.7 1435.2h0M1485 1435.2h0M1488.3 1430.2h0M1491.6 1429.2h0M1494.8 1427.3h0M1498.1 1423.2h0M1501.4 1422.1h0M1504.6 1420.3h0M1507.9 1417.8h0M1511.2 1416h0M1514.4 1410.8h0M1517.7 1409.7h0M1521 1409h0M1524.2 1406.1h0M1527.5 1402.1h0M1530.8 1396h0M1534 1398h0M1537.3 1398.6h0M1540.6 1398.4h0M1543.9 1395.4h0M1547.1 1397.2h0M1550.4 1400.4h0M1553.7 1402.1h0M1556.9 1405.2h0M1560.2 1405h0M1561.6 1415.2h0M1564.9 1420.7h0M1568.1 1426.9h0M1571.4 1438.5h0M1574.7 1448h0M1578 1454.9h0M1581.3 1460.9h0M1584.5 1457.8h0M1587.8 1454.7h0M1591.1 1454h0M1594.4 1455.9h0M1597.7 1457.6h0M1600.9 1454h0M1604.2 1454.5h0M1607.5 1451.5h0M1610.8 1448.5h0M1614.1 1441.4h0M1617.3 1443.1h0M1620.6 1438.8h0M1623.9 1439.6h0M1628.1 1422.4h0M1631.4 1421.1h0M1634.8 1417.1h0M1638.1 1411.9h0M1641.4 1407.9h0M1644.8 1404.9h0M1648.1 1400h0M1651.5 1395.6h0M1654.8 1393.1h0M1658.2 1389.9h0M1661.5 1388.5h0M1664.9 1385.8h0M1668.2 1384.6h0M1671.6 1381.8h0M1674.9 1381.8h0M1678.3 1384.8h0M1681.6 1381.5h0M1685 1378.5h0M1688.3 1374.3h0M1691.7 1372.1h0M1695 1373.6h0M1698.4 1374.3h0M1701.7 1377h0M1705 1378.6h0M1708.4 1380h0M1712.5 1396h0M1715.7 1399.2h0M1718.8 1404.5h0M1721.9 1408.7h0M1725 1415.6h0M1727.8 1429.6h0M1731.1 1430.9h0M1734.4 1431.5h0M1737.7 1429h0M1741 1424.9h0M1744.3 1424.2h0M1747.6 1431.1h0M1750.9 1429.9h0M1754.2 1431.5h0M1757.5 1430.6h0M1760.9 1425.8h0M1764.2 1419.3h0M1767.5 1416.5h0M1770.8 1412.3h0M1774.1 1406.7h0M1777.4 1401.3h0M1780.7 1394.9h0M1784 1391.1h0M1787.3 1388.1h0M1790.6 1381.1h0M1793.9 1380.8h0M1797.2 1375.6h0M1800.5 1370.9h0M1803.8 1369.1h0M1807.2 1370.3h0M1810.5 1365.6h0M1813.8 1362.1h0M1817.1 1360.2h0M1820.4 1357.4h0M1823.7 1353.7h0M1827 1351.3h0M1830.3 1351.1h0M1833.6 1347.3h0M1836.9 1343.5h0M1840.2 1338.5h0M1843.5 1337.4h0M1846.8 1337.6h0M1850.1 1341h0M1853.5 1343.3h0M1856.8 1346h0M1860.1 1347.9h0M1863.4 1351.1h0M1866.7 1353.7h0M1870 1360.4h0M1873.3 1365.5h0M1876.6 1367.8h0M1879.9 1369.7h0M1883.2 1375.2h0M1886.5 1376.2h0M1889.8 1380.6h0M1889.8 1407.8h0M1893.1 1401h0M1896.4 1396.4h0M1899.7 1390.4h0M1903 1393.8h0M1906.3 1396.1h0M1909.6 1393.2h0M1912.9 1386.8h0M1916.2 1384.4h0M1919.5 1384.9h0M1922.8 1382.3h0M1926 1376.7h0M1929.3 1371.2h0M1932.6 1363.2h0M1935.9 1359.6h0M1939.2 1356.8h0M1942.5 1351.5h0M1945.8 1346.3h0M1949.1 1345.1h0M1952.4 1345.7h0M1955.7 1345.3h0M1959 1342.2h0M1962.3 1340.6h0M1965.6 1334.1h0M1968.8 1329h0M1972.1 1330.9h0M1975.4 1326.8h0M1978.7 1326.1h0M1982 1325.4h0M1985.3 1319.4h0M1988.6 1319.5h0M1991.9 1319.6h0M1995.2 1320.2h0M1998.5 1316.3h0M2001.8 1314.2h0M2005.1 1313.8h0M2008.4 1317.4h0M2011.6 1317.7h0M2014.9 1323.6h0M2018.2 1325.1h0M2021.5 1334.5h0M2024.8 1340.2h0M2028.1 1343.9h0M2031.4 1348.4h0M2034.7 1354.6h0M2038 1358.4h0M2040.8 1377.8h0M2044 1375.3h0M2047.3 1374.9h0M2050.6 1370.7h0M2053.9 1369.9h0M2057.1 1363.3h0M2060.4 1365.7h0M2063.7 1365.7h0M2066.9 1363.2h0M2070.2 1357.3h0M2073.5 1354.6h0M2076.8 1350.8h0M2080 1343.2h0M2083.3 1339.3h0M2086.6 1334.9h0M2089.9 1332.9h0M2093.1 1327.3h0M2096.4 1329.3h0M2099.7 1327.5h0M2103 1322.3h0M2106.2 1318.9h0M2109.5 1317h0M2112.8 1315.2h0M2116.1 1316.5h0M2119.3 1314.5h0M2122.6 1307.7h0M2125.9 1307.8h0M2129.1 1304.6h0M2132.4 1301.3h0M2135.7 1302.7h0M2139 1298.7h0M2142.2 1296.7h0M2145.5 1295.8h0M2148.8 1294.7h0M2152.1 1294.9h0M2155.3 1294.2h0M2158.6 1297.4h0M2161.9 1297.9h0M2165.2 1301h0M2168.4 1305.1h0M2171.7 1314.1h0M2175 1317.3h0M2178.3 1324.3h0M2181.5 1326.4h0M2184.8 1332.1h0M2187.6 1350.3h0M2190.9 1352.5h0M2194.2 1351.3h0M2197.5 1348.1h0M2200.9 1350.1h0M2204.2 1357h0M2207.5 1351.9h0M2210.8 1347.1h0M2214.2 1345.7h0M2217.5 1341.4h0M2220.8 1336h0M2224.1 1329.5h0M2227.5 1326.5h0M2230.8 1319.5h0M2234.1 1316.1h0M2237.4 1311.9h0M2240.8 1307.6h0M2244.1 1302h0M2247.4 1296h0M2250.7 1291.3h0M2254.1 1292.1h0M2257.4 1287.1h0M2260.7 1284.9h0M2264 1279h0M2267.3 1272.2h0M2270.7 1270.1h0M2274 1271.6h0M2277.3 1273.4h0M2280.6 1272.5h0M2284 1267.6h0M2287.3 1263.8h0M2290.6 1262h0M2293.9 1260.9h0M2297.3 1257.4h0M2300.6 1255h0M2303.9 1250.6h0M2307.2 1251h0M2310.6 1253.2h0M2313.9 1251.2h0M2317.2 1255.3h0M2320.5 1260.3h0M2323.3 1276.8h0M2326.5 1277.8h0M2329.8 1276.6h0M2333 1284.1h0M2336.2 1286.2h0M2339.5 1294.3h0M2342.7 1298.5h0M2342.7 1310.4h0M2345.9 1315.1h0M2349.2 1314.5h0M2352.4 1311.5h0M2355.7 1307.6h0M2359 1307.9h0M2362.2 1305.8h0M2365.5 1306.4h0M2368.7 1305.8h0M2372 1303.6h0M2375.2 1297.1h0M2378.5 1291.3h0M2381.7 1286.6h0M2385 1280.7h0M2388.2 1274.4h0M2391.5 1272h0M2394.7 1270.6h0M2398 1263.3h0M2401.2 1259.1h0M2404.5 1264.1h0" fill="none" stroke="#0000ff" stroke-width="10.2" stroke-linecap="round"/>
</g>
<g font-size="71.3" fill="#1c1c1c" letter-spacing="-0.45">
<text x="251.5" y="1075.5" text-anchor="end">420</text>
<text x="251.5" y="1317.5" text-anchor="end">400</text>
<text x="251.5" y="1559.4" text-anchor="end">380</text>
<text x="251.5" y="1801.4" text-anchor="end">360</text>
<text x="364.9" y="1866" text-anchor="middle">2003.8</text>
<text x="668.9" y="1866" text-anchor="middle">2005.8</text>
<text x="972.9" y="1866" text-anchor="middle">2007.8</text>
<text x="1276.9" y="1866" text-anchor="middle">2009.8</text>
<text x="1580.9" y="1866" text-anchor="middle">2011.8</text>
<text x="1884.9" y="1866" text-anchor="middle">2013.8</text>
<text x="2188.9" y="1866" text-anchor="middle">2015.8</text>
</g>
<text transform="translate(79.5 1417) rotate(-90)" font-size="79" fill="#1c1c1c" text-anchor="middle">XCO<tspan font-size="65" dx="-3" dy="38">2</tspan><tspan dy="-38">(ppm)</tspan></text>
<circle cx="320" cy="1124.3" r="5" fill="#808080"/>
<text x="388" y="1134.6" font-size="71.3" fill="#000" letter-spacing="-0.3">Integrated XCO<tspan font-size="58.7" dx="-0.8" dy="34.4">2</tspan></text>
<circle cx="320" cy="1237.2" r="5" fill="#ff0000"/>
<text x="388" y="1247.1" font-size="71.3" fill="#000" letter-spacing="-0.3">Mean GM-XCO<tspan font-size="58.7" dx="-0.8" dy="34.4">2</tspan></text>
<circle cx="320" cy="1349.5" r="5" fill="#0000ff"/>
<text x="388" y="1359.6" font-size="71.3" fill="#000" letter-spacing="-0.3">Mean CT-XCO<tspan font-size="58.7" dx="-0.8" dy="34.4">2</tspan></text>
<text x="1046.5" y="1151.5" font-size="71.3" fill="#000" letter-spacing="-0.3">(30-45°N, 60-125°E)</text>
</g>
</svg>
</body>
</html>
